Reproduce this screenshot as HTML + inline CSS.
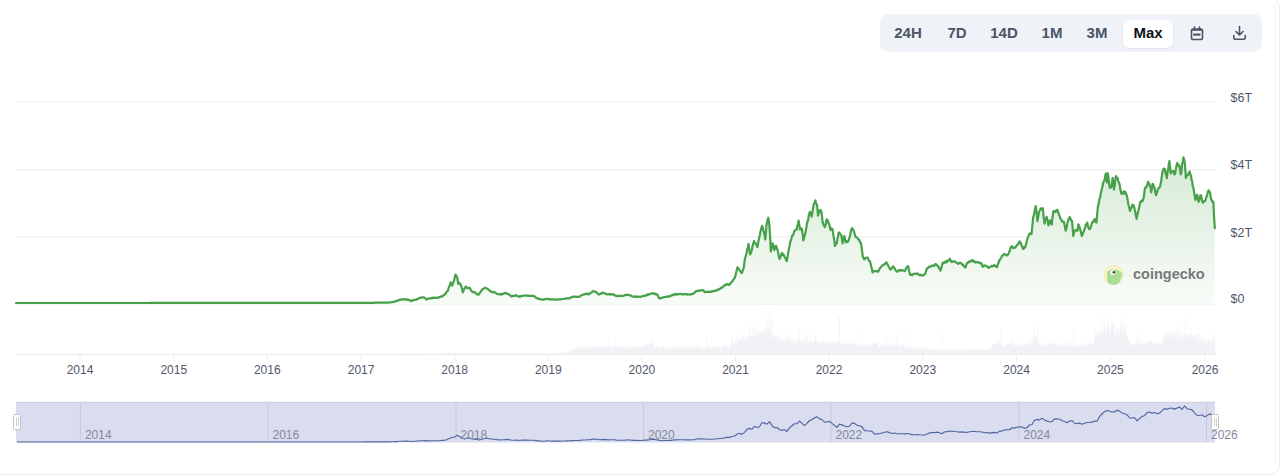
<!DOCTYPE html>
<html><head><meta charset="utf-8">
<style>
html,body{margin:0;padding:0;background:#fff;}
body{width:1280px;height:475px;overflow:hidden;position:relative;font-family:"Liberation Sans",sans-serif;}
.card{position:absolute;left:-20px;top:-3px;width:1300px;height:478px;box-sizing:border-box;border:1px solid #ececee;border-radius:10px;}
.grp{position:absolute;left:880px;top:14px;width:382px;height:38px;background:#eff3f8;border-radius:8px;}
.b{position:absolute;top:0;height:38px;line-height:38px;font-size:15px;font-weight:bold;color:#4b5565;text-align:center;}
.max{position:absolute;left:243px;top:5.5px;width:50px;height:28px;background:#fff;border-radius:6px;box-shadow:0 1px 2px rgba(16,24,40,0.08);}
svg{position:absolute;left:0;top:0;}
</style></head><body>
<div class="card"></div>
<div style="position:absolute;left:1273px;top:5px;width:4px;height:458px;background:#fafafa"></div>
<div class="grp">
  <div class="max"></div>
  <div class="b" style="left:8px;width:40px">24H</div>
  <div class="b" style="left:57px;width:40px">7D</div>
  <div class="b" style="left:104px;width:40px">14D</div>
  <div class="b" style="left:152px;width:40px">1M</div>
  <div class="b" style="left:197px;width:40px">3M</div>
  <div class="b" style="left:248px;width:40px;color:#0d1217">Max</div>
  <svg style="left:310px;top:12px" width="14" height="15" viewBox="0 0 14 15">
    <rect x="1.5" y="3" width="11" height="10.5" rx="1.8" fill="none" stroke="#4b5565" stroke-width="1.6"/>
    <rect x="1.5" y="3" width="11" height="1.8" fill="#4b5565"/>
    <line x1="4.5" y1="1" x2="4.5" y2="4" stroke="#4b5565" stroke-width="1.6" stroke-linecap="round"/>
    <line x1="9.5" y1="1" x2="9.5" y2="4" stroke="#4b5565" stroke-width="1.6" stroke-linecap="round"/>
    <line x1="3.2" y1="8.6" x2="10.4" y2="8.6" stroke="#4b5565" stroke-width="2.2"/>
  </svg>
  <svg style="left:352px;top:11px" width="15" height="16" viewBox="0 0 15 16">
    <path d="M7.5 1.5 V9.5 M4 6.5 L7.5 10 L11 6.5" fill="none" stroke="#4b5565" stroke-width="1.6" stroke-linecap="round" stroke-linejoin="round"/>
    <path d="M1.8 10.6 V13 Q1.8 14.2 3 14.2 H12 Q13.2 14.2 13.2 13 V10.6" fill="none" stroke="#4b5565" stroke-width="1.6" stroke-linecap="round"/>
  </svg>
</div>
<svg width="1280" height="475" viewBox="0 0 1280 475">
  <defs>
    <linearGradient id="ag" x1="0" y1="101" x2="0" y2="304" gradientUnits="userSpaceOnUse">
      <stop offset="0" stop-color="#c9e3c9"/>
      <stop offset="1" stop-color="#f8fcf8"/>
    </linearGradient>
  </defs>
  <line x1="16" x2="1216" y1="102.0" y2="102.0" stroke="#ebebeb" stroke-width="1"/><line x1="16" x2="1216" y1="169.8" y2="169.8" stroke="#ebebeb" stroke-width="1"/><line x1="16" x2="1216" y1="237.0" y2="237.0" stroke="#ebebeb" stroke-width="1"/><line x1="16" x2="1216" y1="304.0" y2="304.0" stroke="#ebebeb" stroke-width="1"/>
  <path d="M16 354.5 L16 354.2 L16.6 354.2 L16.6 354.1 L17.2 354.1 L17.2 354.2 L17.8 354.2 L17.8 354.2 L18.4 354.2 L18.4 354.2 L19 354.2 L19 354.3 L19.6 354.3 L19.6 354.3 L20.2 354.3 L20.2 354 L20.8 354 L20.8 354.1 L21.4 354.1 L21.4 354.2 L22 354.2 L22 354.3 L22.6 354.3 L22.6 354.3 L23.2 354.3 L23.2 354.1 L23.8 354.1 L23.8 354.2 L24.4 354.2 L24.4 354.2 L25 354.2 L25 354.2 L25.6 354.2 L25.6 354.2 L26.2 354.2 L26.2 354.1 L26.8 354.1 L26.8 354.2 L27.4 354.2 L27.4 354.2 L28 354.2 L28 354.2 L28.6 354.2 L28.6 354.2 L29.2 354.2 L29.2 354.2 L29.8 354.2 L29.8 354.1 L30.4 354.1 L30.4 354.3 L31 354.3 L31 354.1 L31.6 354.1 L31.6 354.1 L32.2 354.1 L32.2 354.3 L32.8 354.3 L32.8 354.2 L33.4 354.2 L33.4 354.3 L34 354.3 L34 354.1 L34.6 354.1 L34.6 354.3 L35.2 354.3 L35.2 354 L35.8 354 L35.8 354.2 L36.4 354.2 L36.4 354.2 L37 354.2 L37 354.2 L37.6 354.2 L37.6 354.2 L38.2 354.2 L38.2 354.2 L38.8 354.2 L38.8 354.2 L39.4 354.2 L39.4 354.2 L40 354.2 L40 354.1 L40.6 354.1 L40.6 354.2 L41.2 354.2 L41.2 354.2 L41.8 354.2 L41.8 354.1 L42.4 354.1 L42.4 354.2 L43 354.2 L43 354.2 L43.6 354.2 L43.6 354.3 L44.2 354.3 L44.2 354.2 L44.8 354.2 L44.8 354.2 L45.4 354.2 L45.4 354.2 L46 354.2 L46 354.2 L46.6 354.2 L46.6 354.1 L47.2 354.1 L47.2 354.2 L47.8 354.2 L47.8 354.1 L48.4 354.1 L48.4 354.2 L49 354.2 L49 354.1 L49.6 354.1 L49.6 354.1 L50.2 354.1 L50.2 354.2 L50.8 354.2 L50.8 354 L51.4 354 L51.4 354.2 L52 354.2 L52 354.2 L52.6 354.2 L52.6 354.2 L53.2 354.2 L53.2 354.2 L53.8 354.2 L53.8 354.2 L54.4 354.2 L54.4 354.2 L55 354.2 L55 354.2 L55.6 354.2 L55.6 354.1 L56.2 354.1 L56.2 354.3 L56.8 354.3 L56.8 354.2 L57.4 354.2 L57.4 354.2 L58 354.2 L58 354.2 L58.6 354.2 L58.6 354.2 L59.2 354.2 L59.2 354.1 L59.8 354.1 L59.8 354.2 L60.4 354.2 L60.4 354.1 L61 354.1 L61 354.1 L61.6 354.1 L61.6 354 L62.2 354 L62.2 354.2 L62.8 354.2 L62.8 354.2 L63.4 354.2 L63.4 354.2 L64 354.2 L64 354.1 L64.6 354.1 L64.6 354.1 L65.2 354.1 L65.2 354.1 L65.8 354.1 L65.8 354.2 L66.4 354.2 L66.4 354.1 L67 354.1 L67 354.2 L67.6 354.2 L67.6 354.1 L68.2 354.1 L68.2 354.2 L68.8 354.2 L68.8 354.2 L69.4 354.2 L69.4 354.2 L70 354.2 L70 354.1 L70.6 354.1 L70.6 354.1 L71.2 354.1 L71.2 354.1 L71.8 354.1 L71.8 354.2 L72.4 354.2 L72.4 354.2 L73 354.2 L73 354.2 L73.6 354.2 L73.6 354.2 L74.2 354.2 L74.2 354.1 L74.8 354.1 L74.8 354.2 L75.4 354.2 L75.4 354.1 L76 354.1 L76 354.1 L76.6 354.1 L76.6 354.2 L77.2 354.2 L77.2 354.2 L77.8 354.2 L77.8 354.1 L78.4 354.1 L78.4 354.1 L79 354.1 L79 354.2 L79.6 354.2 L79.6 354.1 L80.2 354.1 L80.2 354.2 L80.8 354.2 L80.8 354.2 L81.4 354.2 L81.4 354.2 L82 354.2 L82 354.1 L82.6 354.1 L82.6 354.1 L83.2 354.1 L83.2 354.2 L83.8 354.2 L83.8 354.2 L84.4 354.2 L84.4 354.2 L85 354.2 L85 354.2 L85.6 354.2 L85.6 354.1 L86.2 354.1 L86.2 354.2 L86.8 354.2 L86.8 354.2 L87.4 354.2 L87.4 354.2 L88 354.2 L88 354.2 L88.6 354.2 L88.6 354.1 L89.2 354.1 L89.2 354 L89.8 354 L89.8 354.2 L90.4 354.2 L90.4 354.2 L91 354.2 L91 354.2 L91.6 354.2 L91.6 354.1 L92.2 354.1 L92.2 354.1 L92.8 354.1 L92.8 354.2 L93.4 354.2 L93.4 354 L94 354 L94 354.1 L94.6 354.1 L94.6 354.2 L95.2 354.2 L95.2 354.1 L95.8 354.1 L95.8 354.1 L96.4 354.1 L96.4 354.2 L97 354.2 L97 354.1 L97.6 354.1 L97.6 354.1 L98.2 354.1 L98.2 354.2 L98.8 354.2 L98.8 354.1 L99.4 354.1 L99.4 354.2 L100 354.2 L100 354.1 L100.6 354.1 L100.6 354.1 L101.2 354.1 L101.2 354.1 L101.8 354.1 L101.8 354.1 L102.4 354.1 L102.4 354.1 L103 354.1 L103 354.2 L103.6 354.2 L103.6 354.1 L104.2 354.1 L104.2 354.2 L104.8 354.2 L104.8 354.2 L105.4 354.2 L105.4 354.1 L106 354.1 L106 354.2 L106.6 354.2 L106.6 354.2 L107.2 354.2 L107.2 354 L107.8 354 L107.8 354.2 L108.4 354.2 L108.4 354.2 L109 354.2 L109 354.1 L109.6 354.1 L109.6 354.2 L110.2 354.2 L110.2 354.1 L110.8 354.1 L110.8 354.1 L111.4 354.1 L111.4 354.2 L112 354.2 L112 354.2 L112.6 354.2 L112.6 354.2 L113.2 354.2 L113.2 354.1 L113.8 354.1 L113.8 354.2 L114.4 354.2 L114.4 354.1 L115 354.1 L115 354.2 L115.6 354.2 L115.6 354.1 L116.2 354.1 L116.2 354.1 L116.8 354.1 L116.8 354.1 L117.4 354.1 L117.4 354.2 L118 354.2 L118 354.2 L118.6 354.2 L118.6 354.2 L119.2 354.2 L119.2 354.1 L119.8 354.1 L119.8 354.1 L120.4 354.1 L120.4 354.2 L121 354.2 L121 354.2 L121.6 354.2 L121.6 354.2 L122.2 354.2 L122.2 354.1 L122.8 354.1 L122.8 354.2 L123.4 354.2 L123.4 354.2 L124 354.2 L124 354.1 L124.6 354.1 L124.6 354.2 L125.2 354.2 L125.2 354.1 L125.8 354.1 L125.8 354.2 L126.4 354.2 L126.4 354.2 L127 354.2 L127 354.2 L127.6 354.2 L127.6 354.2 L128.2 354.2 L128.2 354.1 L128.8 354.1 L128.8 354.1 L129.4 354.1 L129.4 354.1 L130 354.1 L130 354.2 L130.6 354.2 L130.6 354.2 L131.2 354.2 L131.2 354.2 L131.8 354.2 L131.8 354.2 L132.4 354.2 L132.4 354.1 L133 354.1 L133 354.1 L133.6 354.1 L133.6 354.1 L134.2 354.1 L134.2 354.2 L134.8 354.2 L134.8 354.1 L135.4 354.1 L135.4 354.2 L136 354.2 L136 354.1 L136.6 354.1 L136.6 354.1 L137.2 354.1 L137.2 354.2 L137.8 354.2 L137.8 354.1 L138.4 354.1 L138.4 354.2 L139 354.2 L139 354.2 L139.6 354.2 L139.6 354.2 L140.2 354.2 L140.2 354 L140.8 354 L140.8 354.1 L141.4 354.1 L141.4 354.1 L142 354.1 L142 354.1 L142.6 354.1 L142.6 354.1 L143.2 354.1 L143.2 354.2 L143.8 354.2 L143.8 354 L144.4 354 L144.4 354.1 L145 354.1 L145 354.2 L145.6 354.2 L145.6 354.2 L146.2 354.2 L146.2 354.1 L146.8 354.1 L146.8 354.2 L147.4 354.2 L147.4 354.1 L148 354.1 L148 354.1 L148.6 354.1 L148.6 354.1 L149.2 354.1 L149.2 354.1 L149.8 354.1 L149.8 354.2 L150.4 354.2 L150.4 354.1 L151 354.1 L151 354.1 L151.6 354.1 L151.6 354.2 L152.2 354.2 L152.2 354.2 L152.8 354.2 L152.8 354.2 L153.4 354.2 L153.4 354.1 L154 354.1 L154 354.1 L154.6 354.1 L154.6 354.1 L155.2 354.1 L155.2 354.1 L155.8 354.1 L155.8 354.1 L156.4 354.1 L156.4 354.1 L157 354.1 L157 354.1 L157.6 354.1 L157.6 354.1 L158.2 354.1 L158.2 354.1 L158.8 354.1 L158.8 354.1 L159.4 354.1 L159.4 354.1 L160 354.1 L160 354.2 L160.6 354.2 L160.6 354 L161.2 354 L161.2 354.1 L161.8 354.1 L161.8 354.2 L162.4 354.2 L162.4 354.1 L163 354.1 L163 354.1 L163.6 354.1 L163.6 354.1 L164.2 354.1 L164.2 354 L164.8 354 L164.8 354.1 L165.4 354.1 L165.4 353.9 L166 353.9 L166 354.1 L166.6 354.1 L166.6 354 L167.2 354 L167.2 354.1 L167.8 354.1 L167.8 354.2 L168.4 354.2 L168.4 354.1 L169 354.1 L169 354 L169.6 354 L169.6 354 L170.2 354 L170.2 354.1 L170.8 354.1 L170.8 354.1 L171.4 354.1 L171.4 354.2 L172 354.2 L172 354.2 L172.6 354.2 L172.6 354.2 L173.2 354.2 L173.2 353.9 L173.8 353.9 L173.8 354.1 L174.4 354.1 L174.4 354.1 L175 354.1 L175 354.2 L175.6 354.2 L175.6 354.1 L176.2 354.1 L176.2 354.1 L176.8 354.1 L176.8 354.2 L177.4 354.2 L177.4 354.2 L178 354.2 L178 354.1 L178.6 354.1 L178.6 354.1 L179.2 354.1 L179.2 354.2 L179.8 354.2 L179.8 354 L180.4 354 L180.4 354 L181 354 L181 354.1 L181.6 354.1 L181.6 354.2 L182.2 354.2 L182.2 354 L182.8 354 L182.8 354.1 L183.4 354.1 L183.4 354.1 L184 354.1 L184 354.2 L184.6 354.2 L184.6 354.1 L185.2 354.1 L185.2 354.2 L185.8 354.2 L185.8 354.2 L186.4 354.2 L186.4 354.1 L187 354.1 L187 354.2 L187.6 354.2 L187.6 354.1 L188.2 354.1 L188.2 354.1 L188.8 354.1 L188.8 354 L189.4 354 L189.4 354.2 L190 354.2 L190 354 L190.6 354 L190.6 354.1 L191.2 354.1 L191.2 354.2 L191.8 354.2 L191.8 354.1 L192.4 354.1 L192.4 354.1 L193 354.1 L193 354.2 L193.6 354.2 L193.6 354 L194.2 354 L194.2 354 L194.8 354 L194.8 354.2 L195.4 354.2 L195.4 354.1 L196 354.1 L196 354.1 L196.6 354.1 L196.6 354.2 L197.2 354.2 L197.2 354.1 L197.8 354.1 L197.8 354.1 L198.4 354.1 L198.4 354.2 L199 354.2 L199 354.1 L199.6 354.1 L199.6 354.2 L200.2 354.2 L200.2 354.1 L200.8 354.1 L200.8 354.1 L201.4 354.1 L201.4 354.1 L202 354.1 L202 354.1 L202.6 354.1 L202.6 354.1 L203.2 354.1 L203.2 354.1 L203.8 354.1 L203.8 354.1 L204.4 354.1 L204.4 354.1 L205 354.1 L205 354.2 L205.6 354.2 L205.6 354.2 L206.2 354.2 L206.2 354.1 L206.8 354.1 L206.8 354.1 L207.4 354.1 L207.4 354.1 L208 354.1 L208 354.2 L208.6 354.2 L208.6 354.2 L209.2 354.2 L209.2 354.1 L209.8 354.1 L209.8 354.1 L210.4 354.1 L210.4 354.1 L211 354.1 L211 354.1 L211.6 354.1 L211.6 354.1 L212.2 354.1 L212.2 354 L212.8 354 L212.8 354 L213.4 354 L213.4 354 L214 354 L214 354.1 L214.6 354.1 L214.6 354 L215.2 354 L215.2 354.1 L215.8 354.1 L215.8 354.1 L216.4 354.1 L216.4 354.1 L217 354.1 L217 354.2 L217.6 354.2 L217.6 354 L218.2 354 L218.2 354 L218.8 354 L218.8 354.2 L219.4 354.2 L219.4 354 L220 354 L220 354.2 L220.6 354.2 L220.6 354.1 L221.2 354.1 L221.2 354 L221.8 354 L221.8 354 L222.4 354 L222.4 354.1 L223 354.1 L223 354.2 L223.6 354.2 L223.6 354.1 L224.2 354.1 L224.2 354.2 L224.8 354.2 L224.8 354.2 L225.4 354.2 L225.4 354.1 L226 354.1 L226 354.1 L226.6 354.1 L226.6 354.1 L227.2 354.1 L227.2 354.1 L227.8 354.1 L227.8 354 L228.4 354 L228.4 354.1 L229 354.1 L229 354.1 L229.6 354.1 L229.6 354 L230.2 354 L230.2 354 L230.8 354 L230.8 354 L231.4 354 L231.4 354 L232 354 L232 354 L232.6 354 L232.6 354.1 L233.2 354.1 L233.2 354 L233.8 354 L233.8 354.1 L234.4 354.1 L234.4 354 L235 354 L235 354.1 L235.6 354.1 L235.6 354.1 L236.2 354.1 L236.2 354.1 L236.8 354.1 L236.8 354.2 L237.4 354.2 L237.4 354.2 L238 354.2 L238 354 L238.6 354 L238.6 354.2 L239.2 354.2 L239.2 354.1 L239.8 354.1 L239.8 354.2 L240.4 354.2 L240.4 354.1 L241 354.1 L241 354.1 L241.6 354.1 L241.6 354.1 L242.2 354.1 L242.2 354.1 L242.8 354.1 L242.8 354.1 L243.4 354.1 L243.4 354.1 L244 354.1 L244 354 L244.6 354 L244.6 354.1 L245.2 354.1 L245.2 354 L245.8 354 L245.8 354.1 L246.4 354.1 L246.4 354.1 L247 354.1 L247 354.2 L247.6 354.2 L247.6 354 L248.2 354 L248.2 354.1 L248.8 354.1 L248.8 354.1 L249.4 354.1 L249.4 354.1 L250 354.1 L250 354.2 L250.6 354.2 L250.6 354.1 L251.2 354.1 L251.2 354 L251.8 354 L251.8 354.1 L252.4 354.1 L252.4 354.1 L253 354.1 L253 354 L253.6 354 L253.6 354.1 L254.2 354.1 L254.2 354.1 L254.8 354.1 L254.8 354.1 L255.4 354.1 L255.4 354.2 L256 354.2 L256 354 L256.6 354 L256.6 354.2 L257.2 354.2 L257.2 354 L257.8 354 L257.8 354.1 L258.4 354.1 L258.4 354 L259 354 L259 354 L259.6 354 L259.6 354 L260.2 354 L260.2 354 L260.8 354 L260.8 354 L261.4 354 L261.4 354.1 L262 354.1 L262 354.1 L262.6 354.1 L262.6 354.1 L263.2 354.1 L263.2 354.2 L263.8 354.2 L263.8 354.1 L264.4 354.1 L264.4 354.1 L265 354.1 L265 354.2 L265.6 354.2 L265.6 354.1 L266.2 354.1 L266.2 354 L266.8 354 L266.8 354.2 L267.4 354.2 L267.4 354 L268 354 L268 354.1 L268.6 354.1 L268.6 354.2 L269.2 354.2 L269.2 354 L269.8 354 L269.8 354 L270.4 354 L270.4 354.1 L271 354.1 L271 354.1 L271.6 354.1 L271.6 354.1 L272.2 354.1 L272.2 354.1 L272.8 354.1 L272.8 354 L273.4 354 L273.4 354 L274 354 L274 354 L274.6 354 L274.6 354 L275.2 354 L275.2 354.1 L275.8 354.1 L275.8 354 L276.4 354 L276.4 354.1 L277 354.1 L277 354 L277.6 354 L277.6 354.1 L278.2 354.1 L278.2 354.1 L278.8 354.1 L278.8 354.1 L279.4 354.1 L279.4 354 L280 354 L280 354.1 L280.6 354.1 L280.6 354 L281.2 354 L281.2 354.1 L281.8 354.1 L281.8 353.9 L282.4 353.9 L282.4 354 L283 354 L283 354 L283.6 354 L283.6 353.9 L284.2 353.9 L284.2 354.1 L284.8 354.1 L284.8 354.1 L285.4 354.1 L285.4 354.1 L286 354.1 L286 354 L286.6 354 L286.6 354.1 L287.2 354.1 L287.2 354 L287.8 354 L287.8 354.1 L288.4 354.1 L288.4 354.1 L289 354.1 L289 354 L289.6 354 L289.6 354 L290.2 354 L290.2 354.1 L290.8 354.1 L290.8 354 L291.4 354 L291.4 354.1 L292 354.1 L292 354 L292.6 354 L292.6 354.1 L293.2 354.1 L293.2 354.1 L293.8 354.1 L293.8 354.1 L294.4 354.1 L294.4 354.1 L295 354.1 L295 354 L295.6 354 L295.6 354 L296.2 354 L296.2 354 L296.8 354 L296.8 354 L297.4 354 L297.4 354.1 L298 354.1 L298 354.1 L298.6 354.1 L298.6 354.1 L299.2 354.1 L299.2 354 L299.8 354 L299.8 354 L300.4 354 L300.4 354.2 L301 354.2 L301 354 L301.6 354 L301.6 354 L302.2 354 L302.2 354 L302.8 354 L302.8 354.1 L303.4 354.1 L303.4 353.9 L304 353.9 L304 354.1 L304.6 354.1 L304.6 354.1 L305.2 354.1 L305.2 354.1 L305.8 354.1 L305.8 354.1 L306.4 354.1 L306.4 354.1 L307 354.1 L307 354.1 L307.6 354.1 L307.6 354.1 L308.2 354.1 L308.2 354 L308.8 354 L308.8 354.1 L309.4 354.1 L309.4 354 L310 354 L310 354 L310.6 354 L310.6 353.9 L311.2 353.9 L311.2 354 L311.8 354 L311.8 354.1 L312.4 354.1 L312.4 354 L313 354 L313 354 L313.6 354 L313.6 354 L314.2 354 L314.2 354.1 L314.8 354.1 L314.8 354 L315.4 354 L315.4 354 L316 354 L316 354.1 L316.6 354.1 L316.6 354.1 L317.2 354.1 L317.2 354.1 L317.8 354.1 L317.8 353.8 L318.4 353.8 L318.4 354 L319 354 L319 354.1 L319.6 354.1 L319.6 354.1 L320.2 354.1 L320.2 354 L320.8 354 L320.8 354 L321.4 354 L321.4 354.1 L322 354.1 L322 354.1 L322.6 354.1 L322.6 354 L323.2 354 L323.2 354.1 L323.8 354.1 L323.8 354.1 L324.4 354.1 L324.4 353.9 L325 353.9 L325 354.1 L325.6 354.1 L325.6 354.1 L326.2 354.1 L326.2 354 L326.8 354 L326.8 354.1 L327.4 354.1 L327.4 353.8 L328 353.8 L328 354.1 L328.6 354.1 L328.6 353.9 L329.2 353.9 L329.2 354 L329.8 354 L329.8 354.1 L330.4 354.1 L330.4 354 L331 354 L331 354 L331.6 354 L331.6 354 L332.2 354 L332.2 354 L332.8 354 L332.8 354.1 L333.4 354.1 L333.4 354.1 L334 354.1 L334 354.1 L334.6 354.1 L334.6 354 L335.2 354 L335.2 354 L335.8 354 L335.8 354 L336.4 354 L336.4 354 L337 354 L337 354 L337.6 354 L337.6 354.1 L338.2 354.1 L338.2 354 L338.8 354 L338.8 354.1 L339.4 354.1 L339.4 354 L340 354 L340 354.1 L340.6 354.1 L340.6 354 L341.2 354 L341.2 354.1 L341.8 354.1 L341.8 353.9 L342.4 353.9 L342.4 354.1 L343 354.1 L343 354.1 L343.6 354.1 L343.6 354 L344.2 354 L344.2 353.8 L344.8 353.8 L344.8 354.1 L345.4 354.1 L345.4 354 L346 354 L346 354.1 L346.6 354.1 L346.6 354.1 L347.2 354.1 L347.2 354 L347.8 354 L347.8 353.9 L348.4 353.9 L348.4 354.1 L349 354.1 L349 354 L349.6 354 L349.6 353.9 L350.2 353.9 L350.2 354.1 L350.8 354.1 L350.8 354 L351.4 354 L351.4 354 L352 354 L352 354 L352.6 354 L352.6 354 L353.2 354 L353.2 354 L353.8 354 L353.8 354.1 L354.4 354.1 L354.4 354.1 L355 354.1 L355 354.1 L355.6 354.1 L355.6 354 L356.2 354 L356.2 354 L356.8 354 L356.8 354 L357.4 354 L357.4 354 L358 354 L358 354.1 L358.6 354.1 L358.6 354 L359.2 354 L359.2 353.9 L359.8 353.9 L359.8 353.8 L360.4 353.8 L360.4 354 L361 354 L361 354.1 L361.6 354.1 L361.6 354.1 L362.2 354.1 L362.2 354 L362.8 354 L362.8 354 L363.4 354 L363.4 354.1 L364 354.1 L364 354.1 L364.6 354.1 L364.6 354 L365.2 354 L365.2 354.1 L365.8 354.1 L365.8 354.1 L366.4 354.1 L366.4 354.1 L367 354.1 L367 354.1 L367.6 354.1 L367.6 353.9 L368.2 353.9 L368.2 354.1 L368.8 354.1 L368.8 354 L369.4 354 L369.4 353.8 L370 353.8 L370 354 L370.6 354 L370.6 354.1 L371.2 354.1 L371.2 353.9 L371.8 353.9 L371.8 353.9 L372.4 353.9 L372.4 354 L373 354 L373 354 L373.6 354 L373.6 354.1 L374.2 354.1 L374.2 354 L374.8 354 L374.8 354.1 L375.4 354.1 L375.4 354 L376 354 L376 354 L376.6 354 L376.6 354 L377.2 354 L377.2 353.9 L377.8 353.9 L377.8 354.1 L378.4 354.1 L378.4 353.8 L379 353.8 L379 354 L379.6 354 L379.6 354 L380.2 354 L380.2 354 L380.8 354 L380.8 353.9 L381.4 353.9 L381.4 353.9 L382 353.9 L382 354 L382.6 354 L382.6 354 L383.2 354 L383.2 354.1 L383.8 354.1 L383.8 354 L384.4 354 L384.4 354 L385 354 L385 353.9 L385.6 353.9 L385.6 354 L386.2 354 L386.2 354.1 L386.8 354.1 L386.8 354 L387.4 354 L387.4 354.1 L388 354.1 L388 354 L388.6 354 L388.6 353.9 L389.2 353.9 L389.2 354 L389.8 354 L389.8 354 L390.4 354 L390.4 354 L391 354 L391 353.9 L391.6 353.9 L391.6 354.1 L392.2 354.1 L392.2 354 L392.8 354 L392.8 353.8 L393.4 353.8 L393.4 353.9 L394 353.9 L394 354 L394.6 354 L394.6 353.7 L395.2 353.7 L395.2 353.7 L395.8 353.7 L395.8 353.9 L396.4 353.9 L396.4 354 L397 354 L397 354 L397.6 354 L397.6 353.9 L398.2 353.9 L398.2 354 L398.8 354 L398.8 353.8 L399.4 353.8 L399.4 353.9 L400 353.9 L400 354 L400.6 354 L400.6 353.9 L401.2 353.9 L401.2 353.6 L401.8 353.6 L401.8 353.9 L402.4 353.9 L402.4 353.7 L403 353.7 L403 353.8 L403.6 353.8 L403.6 353.9 L404.2 353.9 L404.2 353.8 L404.8 353.8 L404.8 353.7 L405.4 353.7 L405.4 353.8 L406 353.8 L406 353.9 L406.6 353.9 L406.6 354 L407.2 354 L407.2 353.9 L407.8 353.9 L407.8 353.9 L408.4 353.9 L408.4 353.9 L409 353.9 L409 353.9 L409.6 353.9 L409.6 353.9 L410.2 353.9 L410.2 353.9 L410.8 353.9 L410.8 353.9 L411.4 353.9 L411.4 353.7 L412 353.7 L412 353.5 L412.6 353.5 L412.6 353.8 L413.2 353.8 L413.2 353.5 L413.8 353.5 L413.8 353.8 L414.4 353.8 L414.4 353.8 L415 353.8 L415 353.9 L415.6 353.9 L415.6 353.7 L416.2 353.7 L416.2 353.9 L416.8 353.9 L416.8 353.9 L417.4 353.9 L417.4 353.7 L418 353.7 L418 353.8 L418.6 353.8 L418.6 353.6 L419.2 353.6 L419.2 353.7 L419.8 353.7 L419.8 353.8 L420.4 353.8 L420.4 353.8 L421 353.8 L421 353.6 L421.6 353.6 L421.6 353.5 L422.2 353.5 L422.2 353.7 L422.8 353.7 L422.8 353.8 L423.4 353.8 L423.4 353.9 L424 353.9 L424 353.8 L424.6 353.8 L424.6 353.4 L425.2 353.4 L425.2 353.8 L425.8 353.8 L425.8 353.7 L426.4 353.7 L426.4 353.7 L427 353.7 L427 353.7 L427.6 353.7 L427.6 353.5 L428.2 353.5 L428.2 353.8 L428.8 353.8 L428.8 353.8 L429.4 353.8 L429.4 353.6 L430 353.6 L430 353.5 L430.6 353.5 L430.6 353.8 L431.2 353.8 L431.2 353.7 L431.8 353.7 L431.8 353.7 L432.4 353.7 L432.4 353.6 L433 353.6 L433 353.8 L433.6 353.8 L433.6 353.7 L434.2 353.7 L434.2 353.7 L434.8 353.7 L434.8 353.8 L435.4 353.8 L435.4 353.8 L436 353.8 L436 353.8 L436.6 353.8 L436.6 353.5 L437.2 353.5 L437.2 353.8 L437.8 353.8 L437.8 353.3 L438.4 353.3 L438.4 353.6 L439 353.6 L439 353.7 L439.6 353.7 L439.6 353.7 L440.2 353.7 L440.2 353.7 L440.8 353.7 L440.8 353.5 L441.4 353.5 L441.4 353.4 L442 353.4 L442 353.6 L442.6 353.6 L442.6 353.4 L443.2 353.4 L443.2 353.3 L443.8 353.3 L443.8 353.5 L444.4 353.5 L444.4 353.5 L445 353.5 L445 353.6 L445.6 353.6 L445.6 353.1 L446.2 353.1 L446.2 353.5 L446.8 353.5 L446.8 353.3 L447.4 353.3 L447.4 353.3 L448 353.3 L448 352.5 L448.6 352.5 L448.6 352.7 L449.2 352.7 L449.2 353 L449.8 353 L449.8 353.4 L450.4 353.4 L450.4 353.4 L451 353.4 L451 353.1 L451.6 353.1 L451.6 353.1 L452.2 353.1 L452.2 352.8 L452.8 352.8 L452.8 353 L453.4 353 L453.4 352.7 L454 352.7 L454 353 L454.6 353 L454.6 352.8 L455.2 352.8 L455.2 353.1 L455.8 353.1 L455.8 353.2 L456.4 353.2 L456.4 353.1 L457 353.1 L457 353.2 L457.6 353.2 L457.6 353.3 L458.2 353.3 L458.2 353.2 L458.8 353.2 L458.8 353.1 L459.4 353.1 L459.4 353 L460 353 L460 352.7 L460.6 352.7 L460.6 352.8 L461.2 352.8 L461.2 353.4 L461.8 353.4 L461.8 353.1 L462.4 353.1 L462.4 353.3 L463 353.3 L463 353.2 L463.6 353.2 L463.6 353 L464.2 353 L464.2 353.5 L464.8 353.5 L464.8 353.1 L465.4 353.1 L465.4 353.4 L466 353.4 L466 353.1 L466.6 353.1 L466.6 353.3 L467.2 353.3 L467.2 353.2 L467.8 353.2 L467.8 353.6 L468.4 353.6 L468.4 353.6 L469 353.6 L469 353.5 L469.6 353.5 L469.6 353.5 L470.2 353.5 L470.2 353.7 L470.8 353.7 L470.8 352.9 L471.4 352.9 L471.4 353.3 L472 353.3 L472 353.3 L472.6 353.3 L472.6 353.3 L473.2 353.3 L473.2 353.3 L473.8 353.3 L473.8 353.6 L474.4 353.6 L474.4 353.5 L475 353.5 L475 353.6 L475.6 353.6 L475.6 353.7 L476.2 353.7 L476.2 353.6 L476.8 353.6 L476.8 353.5 L477.4 353.5 L477.4 353.3 L478 353.3 L478 353.4 L478.6 353.4 L478.6 353.5 L479.2 353.5 L479.2 353.5 L479.8 353.5 L479.8 353.5 L480.4 353.5 L480.4 353.6 L481 353.6 L481 353.4 L481.6 353.4 L481.6 353.6 L482.2 353.6 L482.2 353.6 L482.8 353.6 L482.8 353 L483.4 353 L483.4 353.5 L484 353.5 L484 353.4 L484.6 353.4 L484.6 353.6 L485.2 353.6 L485.2 353.5 L485.8 353.5 L485.8 353.6 L486.4 353.6 L486.4 353.5 L487 353.5 L487 353.6 L487.6 353.6 L487.6 353.3 L488.2 353.3 L488.2 353.6 L488.8 353.6 L488.8 353.2 L489.4 353.2 L489.4 353.6 L490 353.6 L490 353.2 L490.6 353.2 L490.6 353.4 L491.2 353.4 L491.2 353.4 L491.8 353.4 L491.8 353.4 L492.4 353.4 L492.4 353.3 L493 353.3 L493 353.5 L493.6 353.5 L493.6 353.6 L494.2 353.6 L494.2 353.4 L494.8 353.4 L494.8 353.4 L495.4 353.4 L495.4 353.5 L496 353.5 L496 353.4 L496.6 353.4 L496.6 352.9 L497.2 352.9 L497.2 353.5 L497.8 353.5 L497.8 353.4 L498.4 353.4 L498.4 353.6 L499 353.6 L499 353.2 L499.6 353.2 L499.6 353.5 L500.2 353.5 L500.2 353.2 L500.8 353.2 L500.8 353.3 L501.4 353.3 L501.4 353.2 L502 353.2 L502 353.6 L502.6 353.6 L502.6 353.4 L503.2 353.4 L503.2 353.3 L503.8 353.3 L503.8 353.5 L504.4 353.5 L504.4 353.7 L505 353.7 L505 353.4 L505.6 353.4 L505.6 353.3 L506.2 353.3 L506.2 353.4 L506.8 353.4 L506.8 353.6 L507.4 353.6 L507.4 353.4 L508 353.4 L508 353.4 L508.6 353.4 L508.6 353.5 L509.2 353.5 L509.2 353.3 L509.8 353.3 L509.8 353.3 L510.4 353.3 L510.4 353.3 L511 353.3 L511 353.6 L511.6 353.6 L511.6 353.1 L512.2 353.1 L512.2 353.3 L512.8 353.3 L512.8 353.7 L513.4 353.7 L513.4 353.5 L514 353.5 L514 353.4 L514.6 353.4 L514.6 353.7 L515.2 353.7 L515.2 353.6 L515.8 353.6 L515.8 353.3 L516.4 353.3 L516.4 353.6 L517 353.6 L517 353.1 L517.6 353.1 L517.6 353.6 L518.2 353.6 L518.2 353.6 L518.8 353.6 L518.8 353.4 L519.4 353.4 L519.4 353.7 L520 353.7 L520 353.5 L520.6 353.5 L520.6 353.7 L521.2 353.7 L521.2 353.4 L521.8 353.4 L521.8 353.6 L522.4 353.6 L522.4 353.4 L523 353.4 L523 353.6 L523.6 353.6 L523.6 353.5 L524.2 353.5 L524.2 353.4 L524.8 353.4 L524.8 353.3 L525.4 353.3 L525.4 353.5 L526 353.5 L526 353.3 L526.6 353.3 L526.6 353.4 L527.2 353.4 L527.2 353.5 L527.8 353.5 L527.8 353.3 L528.4 353.3 L528.4 353.3 L529 353.3 L529 353.5 L529.6 353.5 L529.6 353.5 L530.2 353.5 L530.2 353.4 L530.8 353.4 L530.8 353.7 L531.4 353.7 L531.4 353.6 L532 353.6 L532 353.3 L532.6 353.3 L532.6 353.4 L533.2 353.4 L533.2 353.6 L533.8 353.6 L533.8 353.7 L534.4 353.7 L534.4 353.6 L535 353.6 L535 353.6 L535.6 353.6 L535.6 353.3 L536.2 353.3 L536.2 353.5 L536.8 353.5 L536.8 353.3 L537.4 353.3 L537.4 353.6 L538 353.6 L538 353.4 L538.6 353.4 L538.6 353.6 L539.2 353.6 L539.2 353 L539.8 353 L539.8 353.5 L540.4 353.5 L540.4 353.5 L541 353.5 L541 353.4 L541.6 353.4 L541.6 353.3 L542.2 353.3 L542.2 353.3 L542.8 353.3 L542.8 353.4 L543.4 353.4 L543.4 353.4 L544 353.4 L544 353.7 L544.6 353.7 L544.6 353.6 L545.2 353.6 L545.2 353.6 L545.8 353.6 L545.8 353.6 L546.4 353.6 L546.4 353.7 L547 353.7 L547 353.4 L547.6 353.4 L547.6 353.7 L548.2 353.7 L548.2 353.5 L548.8 353.5 L548.8 353.6 L549.4 353.6 L549.4 353.4 L550 353.4 L550 353.7 L550.6 353.7 L550.6 353.7 L551.2 353.7 L551.2 353.3 L551.8 353.3 L551.8 353.7 L552.4 353.7 L552.4 353.5 L553 353.5 L553 353.7 L553.6 353.7 L553.6 353.6 L554.2 353.6 L554.2 353.7 L554.8 353.7 L554.8 353.7 L555.4 353.7 L555.4 353.5 L556 353.5 L556 353.4 L556.6 353.4 L556.6 353.2 L557.2 353.2 L557.2 353.5 L557.8 353.5 L557.8 353.5 L558.4 353.5 L558.4 353.7 L559 353.7 L559 353.7 L559.6 353.7 L559.6 353.5 L560.2 353.5 L560.2 353.4 L560.8 353.4 L560.8 353.1 L561.4 353.1 L561.4 353.5 L562 353.5 L562 352.8 L562.6 352.8 L562.6 352.7 L563.2 352.7 L563.2 352.3 L563.8 352.3 L563.8 352.8 L564.4 352.8 L564.4 352.3 L565 352.3 L565 352.8 L565.6 352.8 L565.6 352.6 L566.2 352.6 L566.2 352.5 L566.8 352.5 L566.8 352.1 L567.4 352.1 L567.4 351.5 L568 351.5 L568 351 L568.6 351 L568.6 351.2 L569.2 351.2 L569.2 351.1 L569.8 351.1 L569.8 350.1 L570.4 350.1 L570.4 350.5 L571 350.5 L571 350 L571.6 350 L571.6 349.7 L572.2 349.7 L572.2 350.3 L572.8 350.3 L572.8 350 L573.4 350 L573.4 348.4 L574 348.4 L574 349 L574.6 349 L574.6 348.3 L575.2 348.3 L575.2 347.7 L575.8 347.7 L575.8 346.9 L576.4 346.9 L576.4 349.2 L577 349.2 L577 344.4 L577.6 344.4 L577.6 346.2 L578.2 346.2 L578.2 347.3 L578.8 347.3 L578.8 348.2 L579.4 348.2 L579.4 347.3 L580 347.3 L580 347.6 L580.6 347.6 L580.6 345.7 L581.2 345.7 L581.2 348.3 L581.8 348.3 L581.8 346.6 L582.4 346.6 L582.4 346.4 L583 346.4 L583 348.2 L583.6 348.2 L583.6 348.8 L584.2 348.8 L584.2 346.4 L584.8 346.4 L584.8 348.1 L585.4 348.1 L585.4 346.5 L586 346.5 L586 348.9 L586.6 348.9 L586.6 348.9 L587.2 348.9 L587.2 347.3 L587.8 347.3 L587.8 343.1 L588.4 343.1 L588.4 346.6 L589 346.6 L589 349 L589.6 349 L589.6 347.7 L590.2 347.7 L590.2 345.8 L590.8 345.8 L590.8 348.8 L591.4 348.8 L591.4 347.6 L592 347.6 L592 347.7 L592.6 347.7 L592.6 347.5 L593.2 347.5 L593.2 347.9 L593.8 347.9 L593.8 348.7 L594.4 348.7 L594.4 346.2 L595 346.2 L595 347.1 L595.6 347.1 L595.6 348.5 L596.2 348.5 L596.2 345.7 L596.8 345.7 L596.8 345.8 L597.4 345.8 L597.4 347.5 L598 347.5 L598 346.1 L598.6 346.1 L598.6 346 L599.2 346 L599.2 348.8 L599.8 348.8 L599.8 347.6 L600.4 347.6 L600.4 345.7 L601 345.7 L601 346.6 L601.6 346.6 L601.6 346.3 L602.2 346.3 L602.2 346.4 L602.8 346.4 L602.8 346.9 L603.4 346.9 L603.4 347.7 L604 347.7 L604 347.7 L604.6 347.7 L604.6 347.2 L605.2 347.2 L605.2 347 L605.8 347 L605.8 347.7 L606.4 347.7 L606.4 347.3 L607 347.3 L607 347.8 L607.6 347.8 L607.6 348.2 L608.2 348.2 L608.2 346.5 L608.8 346.5 L608.8 336 L609.4 336 L609.4 346.2 L610 346.2 L610 346.6 L610.6 346.6 L610.6 346.9 L611.2 346.9 L611.2 345.7 L611.8 345.7 L611.8 347.5 L612.4 347.5 L612.4 348.2 L613 348.2 L613 348.7 L613.6 348.7 L613.6 343.7 L614.2 343.7 L614.2 347.1 L614.8 347.1 L614.8 336 L615.4 336 L615.4 345.9 L616 345.9 L616 346.4 L616.6 346.4 L616.6 346.5 L617.2 346.5 L617.2 348.4 L617.8 348.4 L617.8 347 L618.4 347 L618.4 346.5 L619 346.5 L619 346.1 L619.6 346.1 L619.6 346.8 L620.2 346.8 L620.2 346 L620.8 346 L620.8 348.1 L621.4 348.1 L621.4 346.7 L622 346.7 L622 344.3 L622.6 344.3 L622.6 348.3 L623.2 348.3 L623.2 348.3 L623.8 348.3 L623.8 347.5 L624.4 347.5 L624.4 348.2 L625 348.2 L625 347.5 L625.6 347.5 L625.6 348.6 L626.2 348.6 L626.2 346.4 L626.8 346.4 L626.8 347.4 L627.4 347.4 L627.4 347.4 L628 347.4 L628 346.2 L628.6 346.2 L628.6 343.3 L629.2 343.3 L629.2 348 L629.8 348 L629.8 348.4 L630.4 348.4 L630.4 348 L631 348 L631 346.1 L631.6 346.1 L631.6 347.4 L632.2 347.4 L632.2 348.4 L632.8 348.4 L632.8 348.8 L633.4 348.8 L633.4 347.1 L634 347.1 L634 346.3 L634.6 346.3 L634.6 347.4 L635.2 347.4 L635.2 346.1 L635.8 346.1 L635.8 346.4 L636.4 346.4 L636.4 347.1 L637 347.1 L637 349.1 L637.6 349.1 L637.6 346.1 L638.2 346.1 L638.2 346.5 L638.8 346.5 L638.8 347.6 L639.4 347.6 L639.4 347.6 L640 347.6 L640 347.6 L640.6 347.6 L640.6 347.4 L641.2 347.4 L641.2 346.5 L641.8 346.5 L641.8 346.9 L642.4 346.9 L642.4 346.7 L643 346.7 L643 344.6 L643.6 344.6 L643.6 347.5 L644.2 347.5 L644.2 346.5 L644.8 346.5 L644.8 343.8 L645.4 343.8 L645.4 343.4 L646 343.4 L646 343.5 L646.6 343.5 L646.6 346.9 L647.2 346.9 L647.2 344.1 L647.8 344.1 L647.8 343.7 L648.4 343.7 L648.4 341.9 L649 341.9 L649 343.6 L649.6 343.6 L649.6 345.8 L650.2 345.8 L650.2 341.5 L650.8 341.5 L650.8 337.4 L651.4 337.4 L651.4 342.9 L652 342.9 L652 343.7 L652.6 343.7 L652.6 341.7 L653.2 341.7 L653.2 343.2 L653.8 343.2 L653.8 343.3 L654.4 343.3 L654.4 345.7 L655 345.7 L655 347.3 L655.6 347.3 L655.6 346.5 L656.2 346.5 L656.2 345.6 L656.8 345.6 L656.8 345.2 L657.4 345.2 L657.4 347.2 L658 347.2 L658 347.6 L658.6 347.6 L658.6 347.5 L659.2 347.5 L659.2 345.9 L659.8 345.9 L659.8 348 L660.4 348 L660.4 348 L661 348 L661 348 L661.6 348 L661.6 348.3 L662.2 348.3 L662.2 347.9 L662.8 347.9 L662.8 346.5 L663.4 346.5 L663.4 346.3 L664 346.3 L664 348.6 L664.6 348.6 L664.6 348.1 L665.2 348.1 L665.2 347.5 L665.8 347.5 L665.8 347.7 L666.4 347.7 L666.4 345.9 L667 345.9 L667 347.6 L667.6 347.6 L667.6 346.3 L668.2 346.3 L668.2 347.8 L668.8 347.8 L668.8 347.7 L669.4 347.7 L669.4 347 L670 347 L670 347.4 L670.6 347.4 L670.6 348.9 L671.2 348.9 L671.2 347.7 L671.8 347.7 L671.8 346 L672.4 346 L672.4 348.3 L673 348.3 L673 345.8 L673.6 345.8 L673.6 347.9 L674.2 347.9 L674.2 348.5 L674.8 348.5 L674.8 345.9 L675.4 345.9 L675.4 348.6 L676 348.6 L676 346.1 L676.6 346.1 L676.6 345.9 L677.2 345.9 L677.2 347.8 L677.8 347.8 L677.8 348.1 L678.4 348.1 L678.4 348.8 L679 348.8 L679 344.9 L679.6 344.9 L679.6 348.5 L680.2 348.5 L680.2 347.3 L680.8 347.3 L680.8 347.2 L681.4 347.2 L681.4 347.4 L682 347.4 L682 348.8 L682.6 348.8 L682.6 348.8 L683.2 348.8 L683.2 346.6 L683.8 346.6 L683.8 347.5 L684.4 347.5 L684.4 348 L685 348 L685 348.2 L685.6 348.2 L685.6 346 L686.2 346 L686.2 347.2 L686.8 347.2 L686.8 347.6 L687.4 347.6 L687.4 346.1 L688 346.1 L688 349.1 L688.6 349.1 L688.6 345.5 L689.2 345.5 L689.2 348.6 L689.8 348.6 L689.8 345.3 L690.4 345.3 L690.4 346.6 L691 346.6 L691 347.1 L691.6 347.1 L691.6 345.1 L692.2 345.1 L692.2 349 L692.8 349 L692.8 347.2 L693.4 347.2 L693.4 347.7 L694 347.7 L694 348.2 L694.6 348.2 L694.6 346.4 L695.2 346.4 L695.2 347.9 L695.8 347.9 L695.8 347.7 L696.4 347.7 L696.4 346.3 L697 346.3 L697 346.3 L697.6 346.3 L697.6 346.4 L698.2 346.4 L698.2 347.6 L698.8 347.6 L698.8 348.3 L699.4 348.3 L699.4 347 L700 347 L700 347.4 L700.6 347.4 L700.6 346.3 L701.2 346.3 L701.2 348.9 L701.8 348.9 L701.8 348.1 L702.4 348.1 L702.4 347.6 L703 347.6 L703 347.6 L703.6 347.6 L703.6 349.2 L704.2 349.2 L704.2 348.3 L704.8 348.3 L704.8 347.2 L705.4 347.2 L705.4 348.9 L706 348.9 L706 336 L706.6 336 L706.6 346.1 L707.2 346.1 L707.2 347.7 L707.8 347.7 L707.8 346.6 L708.4 346.6 L708.4 346.5 L709 346.5 L709 348.3 L709.6 348.3 L709.6 347.5 L710.2 347.5 L710.2 347.3 L710.8 347.3 L710.8 347.5 L711.4 347.5 L711.4 348.2 L712 348.2 L712 347.5 L712.6 347.5 L712.6 348.4 L713.2 348.4 L713.2 346.4 L713.8 346.4 L713.8 345.9 L714.4 345.9 L714.4 346.8 L715 346.8 L715 346.7 L715.6 346.7 L715.6 346.4 L716.2 346.4 L716.2 346.4 L716.8 346.4 L716.8 348.2 L717.4 348.2 L717.4 348.9 L718 348.9 L718 347.9 L718.6 347.9 L718.6 347 L719.2 347 L719.2 345.9 L719.8 345.9 L719.8 348.8 L720.4 348.8 L720.4 348.6 L721 348.6 L721 346.1 L721.6 346.1 L721.6 348.3 L722.2 348.3 L722.2 346.4 L722.8 346.4 L722.8 346.9 L723.4 346.9 L723.4 343 L724 343 L724 346.4 L724.6 346.4 L724.6 346 L725.2 346 L725.2 345.7 L725.8 345.7 L725.8 347.3 L726.4 347.3 L726.4 345.1 L727 345.1 L727 346.2 L727.6 346.2 L727.6 346.7 L728.2 346.7 L728.2 346.3 L728.8 346.3 L728.8 347.2 L729.4 347.2 L729.4 347.2 L730 347.2 L730 344.7 L730.6 344.7 L730.6 345.8 L731.2 345.8 L731.2 342.6 L731.8 342.6 L731.8 336 L732.4 336 L732.4 341.2 L733 341.2 L733 343.9 L733.6 343.9 L733.6 342.4 L734.2 342.4 L734.2 344.7 L734.8 344.7 L734.8 341.3 L735.4 341.3 L735.4 339.7 L736 339.7 L736 342.8 L736.6 342.8 L736.6 342.4 L737.2 342.4 L737.2 335.2 L737.8 335.2 L737.8 340.1 L738.4 340.1 L738.4 339.1 L739 339.1 L739 340.4 L739.6 340.4 L739.6 339.7 L740.2 339.7 L740.2 342 L740.8 342 L740.8 337.8 L741.4 337.8 L741.4 338.4 L742 338.4 L742 335.4 L742.6 335.4 L742.6 340.2 L743.2 340.2 L743.2 334.4 L743.8 334.4 L743.8 340.3 L744.4 340.3 L744.4 341.1 L745 341.1 L745 337 L745.6 337 L745.6 335.5 L746.2 335.5 L746.2 338.6 L746.8 338.6 L746.8 335.8 L747.4 335.8 L747.4 337.2 L748 337.2 L748 339.9 L748.6 339.9 L748.6 332.7 L749.2 332.7 L749.2 325 L749.8 325 L749.8 338.1 L750.4 338.1 L750.4 336.6 L751 336.6 L751 336.5 L751.6 336.5 L751.6 333.6 L752.2 333.6 L752.2 334.3 L752.8 334.3 L752.8 325.4 L753.4 325.4 L753.4 327.1 L754 327.1 L754 339.4 L754.6 339.4 L754.6 335.9 L755.2 335.9 L755.2 327 L755.8 327 L755.8 331.4 L756.4 331.4 L756.4 333.7 L757 333.7 L757 329.8 L757.6 329.8 L757.6 336 L758.2 336 L758.2 330.5 L758.8 330.5 L758.8 334.7 L759.4 334.7 L759.4 330 L760 330 L760 330.7 L760.6 330.7 L760.6 333.8 L761.2 333.8 L761.2 333.6 L761.8 333.6 L761.8 311 L762.4 311 L762.4 333.3 L763 333.3 L763 329.3 L763.6 329.3 L763.6 332.1 L764.2 332.1 L764.2 332 L764.8 332 L764.8 326.9 L765.4 326.9 L765.4 327.8 L766 327.8 L766 318 L766.6 318 L766.6 332.6 L767.2 332.6 L767.2 324.9 L767.8 324.9 L767.8 327.8 L768.4 327.8 L768.4 328.4 L769 328.4 L769 311 L769.6 311 L769.6 326.3 L770.2 326.3 L770.2 323.1 L770.8 323.1 L770.8 330.1 L771.4 330.1 L771.4 332.3 L772 332.3 L772 320 L772.6 320 L772.6 337.5 L773.2 337.5 L773.2 339.3 L773.8 339.3 L773.8 333.4 L774.4 333.4 L774.4 337.7 L775 337.7 L775 335.8 L775.6 335.8 L775.6 335.6 L776.2 335.6 L776.2 339.6 L776.8 339.6 L776.8 337.3 L777.4 337.3 L777.4 334.1 L778 334.1 L778 335.8 L778.6 335.8 L778.6 336.3 L779.2 336.3 L779.2 339.8 L779.8 339.8 L779.8 338 L780.4 338 L780.4 340.8 L781 340.8 L781 335.5 L781.6 335.5 L781.6 340.1 L782.2 340.1 L782.2 339.2 L782.8 339.2 L782.8 337.9 L783.4 337.9 L783.4 338.6 L784 338.6 L784 338.4 L784.6 338.4 L784.6 340.1 L785.2 340.1 L785.2 342.1 L785.8 342.1 L785.8 337.8 L786.4 337.8 L786.4 337 L787 337 L787 341 L787.6 341 L787.6 333.7 L788.2 333.7 L788.2 338.5 L788.8 338.5 L788.8 341 L789.4 341 L789.4 336.8 L790 336.8 L790 342 L790.6 342 L790.6 342.7 L791.2 342.7 L791.2 338.3 L791.8 338.3 L791.8 340.1 L792.4 340.1 L792.4 343.2 L793 343.2 L793 337.7 L793.6 337.7 L793.6 338.8 L794.2 338.8 L794.2 341.2 L794.8 341.2 L794.8 342 L795.4 342 L795.4 341.5 L796 341.5 L796 338.2 L796.6 338.2 L796.6 339.6 L797.2 339.6 L797.2 342.2 L797.8 342.2 L797.8 339.6 L798.4 339.6 L798.4 337.4 L799 337.4 L799 330 L799.6 330 L799.6 338.4 L800.2 338.4 L800.2 339.4 L800.8 339.4 L800.8 341.5 L801.4 341.5 L801.4 342.4 L802 342.4 L802 338.3 L802.6 338.3 L802.6 341.6 L803.2 341.6 L803.2 333.6 L803.8 333.6 L803.8 343.5 L804.4 343.5 L804.4 340.5 L805 340.5 L805 335.7 L805.6 335.7 L805.6 337.8 L806.2 337.8 L806.2 338.7 L806.8 338.7 L806.8 334 L807.4 334 L807.4 343 L808 343 L808 340 L808.6 340 L808.6 342.2 L809.2 342.2 L809.2 342.4 L809.8 342.4 L809.8 342 L810.4 342 L810.4 342.7 L811 342.7 L811 336.5 L811.6 336.5 L811.6 340.7 L812.2 340.7 L812.2 343.7 L812.8 343.7 L812.8 341.5 L813.4 341.5 L813.4 342.5 L814 342.5 L814 339.9 L814.6 339.9 L814.6 340.5 L815.2 340.5 L815.2 334 L815.8 334 L815.8 342.2 L816.4 342.2 L816.4 341.8 L817 341.8 L817 341.4 L817.6 341.4 L817.6 339.3 L818.2 339.3 L818.2 344.5 L818.8 344.5 L818.8 344.5 L819.4 344.5 L819.4 341.1 L820 341.1 L820 343.6 L820.6 343.6 L820.6 339.9 L821.2 339.9 L821.2 340.8 L821.8 340.8 L821.8 342.2 L822.4 342.2 L822.4 341.7 L823 341.7 L823 339.2 L823.6 339.2 L823.6 340.2 L824.2 340.2 L824.2 343.6 L824.8 343.6 L824.8 341.9 L825.4 341.9 L825.4 343.3 L826 343.3 L826 342.2 L826.6 342.2 L826.6 344.7 L827.2 344.7 L827.2 345.1 L827.8 345.1 L827.8 343 L828.4 343 L828.4 344.6 L829 344.6 L829 340 L829.6 340 L829.6 341.1 L830.2 341.1 L830.2 342.1 L830.8 342.1 L830.8 342.8 L831.4 342.8 L831.4 341.7 L832 341.7 L832 343 L832.6 343 L832.6 343.6 L833.2 343.6 L833.2 339 L833.8 339 L833.8 342 L834.4 342 L834.4 345.2 L835 345.2 L835 343.8 L835.6 343.8 L835.6 342.7 L836.2 342.7 L836.2 342.3 L836.8 342.3 L836.8 341.4 L837.4 341.4 L837.4 340.3 L838 340.3 L838 341.6 L838.6 341.6 L838.6 317.5 L839.2 317.5 L839.2 317.5 L839.8 317.5 L839.8 344.2 L840.4 344.2 L840.4 341.6 L841 341.6 L841 342.6 L841.6 342.6 L841.6 338.2 L842.2 338.2 L842.2 344 L842.8 344 L842.8 344.7 L843.4 344.7 L843.4 345 L844 345 L844 341.1 L844.6 341.1 L844.6 344.6 L845.2 344.6 L845.2 342.6 L845.8 342.6 L845.8 345.1 L846.4 345.1 L846.4 344.6 L847 344.6 L847 342.6 L847.6 342.6 L847.6 342.7 L848.2 342.7 L848.2 344.2 L848.8 344.2 L848.8 338.9 L849.4 338.9 L849.4 344.2 L850 344.2 L850 336.8 L850.6 336.8 L850.6 344.4 L851.2 344.4 L851.2 345.5 L851.8 345.5 L851.8 341.7 L852.4 341.7 L852.4 343.8 L853 343.8 L853 342.5 L853.6 342.5 L853.6 345.1 L854.2 345.1 L854.2 342.8 L854.8 342.8 L854.8 340.6 L855.4 340.6 L855.4 344.1 L856 344.1 L856 343.4 L856.6 343.4 L856.6 342.7 L857.2 342.7 L857.2 346.2 L857.8 346.2 L857.8 345.7 L858.4 345.7 L858.4 337.9 L859 337.9 L859 344.6 L859.6 344.6 L859.6 346.3 L860.2 346.3 L860.2 343.6 L860.8 343.6 L860.8 346.3 L861.4 346.3 L861.4 345.2 L862 345.2 L862 331.6 L862.6 331.6 L862.6 343.5 L863.2 343.5 L863.2 345.8 L863.8 345.8 L863.8 344.8 L864.4 344.8 L864.4 344 L865 344 L865 344.8 L865.6 344.8 L865.6 346.5 L866.2 346.5 L866.2 345.8 L866.8 345.8 L866.8 346.7 L867.4 346.7 L867.4 344 L868 344 L868 344.2 L868.6 344.2 L868.6 346.2 L869.2 346.2 L869.2 343.5 L869.8 343.5 L869.8 343.5 L870.4 343.5 L870.4 346.6 L871 346.6 L871 345.5 L871.6 345.5 L871.6 343.3 L872.2 343.3 L872.2 342.7 L872.8 342.7 L872.8 345.1 L873.4 345.1 L873.4 343.4 L874 343.4 L874 342.5 L874.6 342.5 L874.6 343 L875.2 343 L875.2 344.2 L875.8 344.2 L875.8 342.9 L876.4 342.9 L876.4 343 L877 343 L877 343.3 L877.6 343.3 L877.6 342.8 L878.2 342.8 L878.2 345.3 L878.8 345.3 L878.8 346.5 L879.4 346.5 L879.4 346.8 L880 346.8 L880 345.9 L880.6 345.9 L880.6 344.5 L881.2 344.5 L881.2 345.2 L881.8 345.2 L881.8 342.8 L882.4 342.8 L882.4 345.6 L883 345.6 L883 346.4 L883.6 346.4 L883.6 346.4 L884.2 346.4 L884.2 342.9 L884.8 342.9 L884.8 347.3 L885.4 347.3 L885.4 346.1 L886 346.1 L886 336 L886.6 336 L886.6 344.3 L887.2 344.3 L887.2 345.3 L887.8 345.3 L887.8 343.7 L888.4 343.7 L888.4 345.6 L889 345.6 L889 345.7 L889.6 345.7 L889.6 344.3 L890.2 344.3 L890.2 344.5 L890.8 344.5 L890.8 344.2 L891.4 344.2 L891.4 346.6 L892 346.6 L892 341.8 L892.6 341.8 L892.6 346.8 L893.2 346.8 L893.2 345.1 L893.8 345.1 L893.8 343 L894.4 343 L894.4 347.4 L895 347.4 L895 344.2 L895.6 344.2 L895.6 345.3 L896.2 345.3 L896.2 346.1 L896.8 346.1 L896.8 342.7 L897.4 342.7 L897.4 333 L898 333 L898 347.4 L898.6 347.4 L898.6 347.2 L899.2 347.2 L899.2 344.4 L899.8 344.4 L899.8 347.3 L900.4 347.3 L900.4 344.9 L901 344.9 L901 345.7 L901.6 345.7 L901.6 344.5 L902.2 344.5 L902.2 344.2 L902.8 344.2 L902.8 345.1 L903.4 345.1 L903.4 342.7 L904 342.7 L904 347.2 L904.6 347.2 L904.6 346.4 L905.2 346.4 L905.2 348.1 L905.8 348.1 L905.8 346.2 L906.4 346.2 L906.4 344.9 L907 344.9 L907 347.5 L907.6 347.5 L907.6 346.8 L908.2 346.8 L908.2 347.3 L908.8 347.3 L908.8 333 L909.4 333 L909.4 347.2 L910 347.2 L910 344.3 L910.6 344.3 L910.6 348.7 L911.2 348.7 L911.2 348.5 L911.8 348.5 L911.8 347.7 L912.4 347.7 L912.4 346.7 L913 346.7 L913 348.3 L913.6 348.3 L913.6 346.5 L914.2 346.5 L914.2 349.3 L914.8 349.3 L914.8 347.9 L915.4 347.9 L915.4 349.1 L916 349.1 L916 347.3 L916.6 347.3 L916.6 347.6 L917.2 347.6 L917.2 348.4 L917.8 348.4 L917.8 349.6 L918.4 349.6 L918.4 348.9 L919 348.9 L919 347.7 L919.6 347.7 L919.6 349.9 L920.2 349.9 L920.2 348.7 L920.8 348.7 L920.8 347.9 L921.4 347.9 L921.4 349.9 L922 349.9 L922 348.8 L922.6 348.8 L922.6 347.7 L923.2 347.7 L923.2 348.5 L923.8 348.5 L923.8 347.8 L924.4 347.8 L924.4 348.6 L925 348.6 L925 348.4 L925.6 348.4 L925.6 346.6 L926.2 346.6 L926.2 349.9 L926.8 349.9 L926.8 347.9 L927.4 347.9 L927.4 349.7 L928 349.7 L928 349.6 L928.6 349.6 L928.6 348.6 L929.2 348.6 L929.2 349.6 L929.8 349.6 L929.8 348.7 L930.4 348.7 L930.4 349.3 L931 349.3 L931 350.3 L931.6 350.3 L931.6 348.5 L932.2 348.5 L932.2 349 L932.8 349 L932.8 349.7 L933.4 349.7 L933.4 348.3 L934 348.3 L934 350.3 L934.6 350.3 L934.6 349.3 L935.2 349.3 L935.2 348.9 L935.8 348.9 L935.8 348.7 L936.4 348.7 L936.4 349.8 L937 349.8 L937 349.9 L937.6 349.9 L937.6 350 L938.2 350 L938.2 350 L938.8 350 L938.8 349 L939.4 349 L939.4 349.4 L940 349.4 L940 350.1 L940.6 350.1 L940.6 350.4 L941.2 350.4 L941.2 350.7 L941.8 350.7 L941.8 333 L942.4 333 L942.4 350.2 L943 350.2 L943 350.7 L943.6 350.7 L943.6 349.2 L944.2 349.2 L944.2 350.6 L944.8 350.6 L944.8 350.7 L945.4 350.7 L945.4 350.4 L946 350.4 L946 350.7 L946.6 350.7 L946.6 350.2 L947.2 350.2 L947.2 347.9 L947.8 347.9 L947.8 349.4 L948.4 349.4 L948.4 350.7 L949 350.7 L949 350.9 L949.6 350.9 L949.6 348.1 L950.2 348.1 L950.2 349.8 L950.8 349.8 L950.8 351 L951.4 351 L951.4 350.3 L952 350.3 L952 350.3 L952.6 350.3 L952.6 349.2 L953.2 349.2 L953.2 350.7 L953.8 350.7 L953.8 350.8 L954.4 350.8 L954.4 350.8 L955 350.8 L955 350.1 L955.6 350.1 L955.6 348.8 L956.2 348.8 L956.2 349 L956.8 349 L956.8 349.3 L957.4 349.3 L957.4 349.9 L958 349.9 L958 349.5 L958.6 349.5 L958.6 349.8 L959.2 349.8 L959.2 349.8 L959.8 349.8 L959.8 349.4 L960.4 349.4 L960.4 349.1 L961 349.1 L961 350.7 L961.6 350.7 L961.6 350.7 L962.2 350.7 L962.2 348.7 L962.8 348.7 L962.8 349.9 L963.4 349.9 L963.4 349.6 L964 349.6 L964 349.1 L964.6 349.1 L964.6 348.9 L965.2 348.9 L965.2 350.8 L965.8 350.8 L965.8 350.6 L966.4 350.6 L966.4 350.6 L967 350.6 L967 349 L967.6 349 L967.6 349.2 L968.2 349.2 L968.2 349.6 L968.8 349.6 L968.8 349.7 L969.4 349.7 L969.4 349.2 L970 349.2 L970 350.4 L970.6 350.4 L970.6 349.5 L971.2 349.5 L971.2 350.7 L971.8 350.7 L971.8 348.8 L972.4 348.8 L972.4 350.3 L973 350.3 L973 348.4 L973.6 348.4 L973.6 348.9 L974.2 348.9 L974.2 348.5 L974.8 348.5 L974.8 350.3 L975.4 350.3 L975.4 350.1 L976 350.1 L976 348.5 L976.6 348.5 L976.6 350.3 L977.2 350.3 L977.2 350 L977.8 350 L977.8 348.9 L978.4 348.9 L978.4 349.5 L979 349.5 L979 349.5 L979.6 349.5 L979.6 349.5 L980.2 349.5 L980.2 348.8 L980.8 348.8 L980.8 349.2 L981.4 349.2 L981.4 350.4 L982 350.4 L982 347.9 L982.6 347.9 L982.6 349.5 L983.2 349.5 L983.2 347.4 L983.8 347.4 L983.8 349.6 L984.4 349.6 L984.4 350.1 L985 350.1 L985 348.4 L985.6 348.4 L985.6 350 L986.2 350 L986.2 350.4 L986.8 350.4 L986.8 349.9 L987.4 349.9 L987.4 348.5 L988 348.5 L988 349.9 L988.6 349.9 L988.6 348.5 L989.2 348.5 L989.2 349.6 L989.8 349.6 L989.8 349.5 L990.4 349.5 L990.4 347.9 L991 347.9 L991 347.1 L991.6 347.1 L991.6 347 L992.2 347 L992.2 345.1 L992.8 345.1 L992.8 344.1 L993.4 344.1 L993.4 344.1 L994 344.1 L994 345.6 L994.6 345.6 L994.6 342.4 L995.2 342.4 L995.2 344.9 L995.8 344.9 L995.8 340.7 L996.4 340.7 L996.4 344.6 L997 344.6 L997 342.6 L997.6 342.6 L997.6 339.1 L998.2 339.1 L998.2 340.2 L998.8 340.2 L998.8 343.8 L999.4 343.8 L999.4 343.6 L1000 343.6 L1000 330.5 L1000.6 330.5 L1000.6 343.1 L1001.2 343.1 L1001.2 343.4 L1001.8 343.4 L1001.8 346.4 L1002.4 346.4 L1002.4 345.2 L1003 345.2 L1003 345.3 L1003.6 345.3 L1003.6 346.8 L1004.2 346.8 L1004.2 345.6 L1004.8 345.6 L1004.8 346.8 L1005.4 346.8 L1005.4 346.9 L1006 346.9 L1006 345.3 L1006.6 345.3 L1006.6 342 L1007.2 342 L1007.2 343.4 L1007.8 343.4 L1007.8 344.7 L1008.4 344.7 L1008.4 343.5 L1009 343.5 L1009 343.3 L1009.6 343.3 L1009.6 342.8 L1010.2 342.8 L1010.2 343.8 L1010.8 343.8 L1010.8 344.5 L1011.4 344.5 L1011.4 344.5 L1012 344.5 L1012 338 L1012.6 338 L1012.6 344 L1013.2 344 L1013.2 340.3 L1013.8 340.3 L1013.8 345.1 L1014.4 345.1 L1014.4 346.1 L1015 346.1 L1015 346.2 L1015.6 346.2 L1015.6 344.6 L1016.2 344.6 L1016.2 345.4 L1016.8 345.4 L1016.8 346.8 L1017.4 346.8 L1017.4 343.4 L1018 343.4 L1018 343.2 L1018.6 343.2 L1018.6 346.4 L1019.2 346.4 L1019.2 343.4 L1019.8 343.4 L1019.8 342.4 L1020.4 342.4 L1020.4 346.6 L1021 346.6 L1021 345.2 L1021.6 345.2 L1021.6 342.6 L1022.2 342.6 L1022.2 346.2 L1022.8 346.2 L1022.8 345.4 L1023.4 345.4 L1023.4 346.2 L1024 346.2 L1024 344.8 L1024.6 344.8 L1024.6 344.7 L1025.2 344.7 L1025.2 342.3 L1025.8 342.3 L1025.8 342.4 L1026.4 342.4 L1026.4 345.6 L1027 345.6 L1027 344.5 L1027.6 344.5 L1027.6 343.8 L1028.2 343.8 L1028.2 342 L1028.8 342 L1028.8 346.6 L1029.4 346.6 L1029.4 345.6 L1030 345.6 L1030 340.9 L1030.6 340.9 L1030.6 344.5 L1031.2 344.5 L1031.2 339.8 L1031.8 339.8 L1031.8 343.5 L1032.4 343.5 L1032.4 336.7 L1033 336.7 L1033 339 L1033.6 339 L1033.6 335.6 L1034.2 335.6 L1034.2 325.8 L1034.8 325.8 L1034.8 336.7 L1035.4 336.7 L1035.4 337.6 L1036 337.6 L1036 336.1 L1036.6 336.1 L1036.6 341.9 L1037.2 341.9 L1037.2 329 L1037.8 329 L1037.8 339.5 L1038.4 339.5 L1038.4 340.5 L1039 340.5 L1039 345.3 L1039.6 345.3 L1039.6 342.1 L1040.2 342.1 L1040.2 346.4 L1040.8 346.4 L1040.8 343.2 L1041.4 343.2 L1041.4 342.4 L1042 342.4 L1042 344.5 L1042.6 344.5 L1042.6 343.5 L1043.2 343.5 L1043.2 344.9 L1043.8 344.9 L1043.8 346.4 L1044.4 346.4 L1044.4 343.3 L1045 343.3 L1045 344.5 L1045.6 344.5 L1045.6 344.6 L1046.2 344.6 L1046.2 344.1 L1046.8 344.1 L1046.8 346.7 L1047.4 346.7 L1047.4 345.6 L1048 345.6 L1048 345.7 L1048.6 345.7 L1048.6 343.5 L1049.2 343.5 L1049.2 338.5 L1049.8 338.5 L1049.8 343.9 L1050.4 343.9 L1050.4 343.9 L1051 343.9 L1051 345.2 L1051.6 345.2 L1051.6 339.3 L1052.2 339.3 L1052.2 342.6 L1052.8 342.6 L1052.8 344 L1053.4 344 L1053.4 342.4 L1054 342.4 L1054 342.2 L1054.6 342.2 L1054.6 346.7 L1055.2 346.7 L1055.2 343.9 L1055.8 343.9 L1055.8 344 L1056.4 344 L1056.4 346.8 L1057 346.8 L1057 344 L1057.6 344 L1057.6 344.1 L1058.2 344.1 L1058.2 343.3 L1058.8 343.3 L1058.8 344.7 L1059.4 344.7 L1059.4 341 L1060 341 L1060 345.3 L1060.6 345.3 L1060.6 345.1 L1061.2 345.1 L1061.2 343.7 L1061.8 343.7 L1061.8 345.5 L1062.4 345.5 L1062.4 346.3 L1063 346.3 L1063 345 L1063.6 345 L1063.6 345.4 L1064.2 345.4 L1064.2 346 L1064.8 346 L1064.8 341.2 L1065.4 341.2 L1065.4 342.9 L1066 342.9 L1066 344.7 L1066.6 344.7 L1066.6 345.8 L1067.2 345.8 L1067.2 346.7 L1067.8 346.7 L1067.8 345.7 L1068.4 345.7 L1068.4 343.5 L1069 343.5 L1069 344.3 L1069.6 344.3 L1069.6 342 L1070.2 342 L1070.2 343.6 L1070.8 343.6 L1070.8 342.6 L1071.4 342.6 L1071.4 346.3 L1072 346.3 L1072 344.3 L1072.6 344.3 L1072.6 346.5 L1073.2 346.5 L1073.2 328 L1073.8 328 L1073.8 342.8 L1074.4 342.8 L1074.4 346.9 L1075 346.9 L1075 346 L1075.6 346 L1075.6 345.9 L1076.2 345.9 L1076.2 345.8 L1076.8 345.8 L1076.8 343.3 L1077.4 343.3 L1077.4 343.4 L1078 343.4 L1078 346.2 L1078.6 346.2 L1078.6 346.9 L1079.2 346.9 L1079.2 347 L1079.8 347 L1079.8 343.3 L1080.4 343.3 L1080.4 344.3 L1081 344.3 L1081 347.4 L1081.6 347.4 L1081.6 347.2 L1082.2 347.2 L1082.2 344 L1082.8 344 L1082.8 340.6 L1083.4 340.6 L1083.4 347.3 L1084 347.3 L1084 343.7 L1084.6 343.7 L1084.6 347.1 L1085.2 347.1 L1085.2 344.7 L1085.8 344.7 L1085.8 344.4 L1086.4 344.4 L1086.4 345.9 L1087 345.9 L1087 346.5 L1087.6 346.5 L1087.6 344 L1088.2 344 L1088.2 344.5 L1088.8 344.5 L1088.8 340.1 L1089.4 340.1 L1089.4 344.7 L1090 344.7 L1090 345.4 L1090.6 345.4 L1090.6 340.2 L1091.2 340.2 L1091.2 343.4 L1091.8 343.4 L1091.8 344.2 L1092.4 344.2 L1092.4 343.8 L1093 343.8 L1093 344.2 L1093.6 344.2 L1093.6 341 L1094.2 341 L1094.2 336.5 L1094.8 336.5 L1094.8 336.3 L1095.4 336.3 L1095.4 329.8 L1096 329.8 L1096 327.8 L1096.6 327.8 L1096.6 338.3 L1097.2 338.3 L1097.2 332.4 L1097.8 332.4 L1097.8 337.2 L1098.4 337.2 L1098.4 330.1 L1099 330.1 L1099 330 L1099.6 330 L1099.6 337.9 L1100.2 337.9 L1100.2 329.1 L1100.8 329.1 L1100.8 319.8 L1101.4 319.8 L1101.4 333.8 L1102 333.8 L1102 333.3 L1102.6 333.3 L1102.6 332.1 L1103.2 332.1 L1103.2 329.2 L1103.8 329.2 L1103.8 312.6 L1104.4 312.6 L1104.4 326.6 L1105 326.6 L1105 325.9 L1105.6 325.9 L1105.6 330.9 L1106.2 330.9 L1106.2 335.4 L1106.8 335.4 L1106.8 329.3 L1107.4 329.3 L1107.4 324.6 L1108 324.6 L1108 318 L1108.6 318 L1108.6 330 L1109.2 330 L1109.2 329.2 L1109.8 329.2 L1109.8 327.7 L1110.4 327.7 L1110.4 335 L1111 335 L1111 325 L1111.6 325 L1111.6 325.6 L1112.2 325.6 L1112.2 324.5 L1112.8 324.5 L1112.8 320 L1113.4 320 L1113.4 323.1 L1114 323.1 L1114 334.8 L1114.6 334.8 L1114.6 328.9 L1115.2 328.9 L1115.2 334.5 L1115.8 334.5 L1115.8 334.2 L1116.4 334.2 L1116.4 329.1 L1117 329.1 L1117 326.9 L1117.6 326.9 L1117.6 334.3 L1118.2 334.3 L1118.2 334.3 L1118.8 334.3 L1118.8 335.6 L1119.4 335.6 L1119.4 328.3 L1120 328.3 L1120 317.7 L1120.6 317.7 L1120.6 326.7 L1121.2 326.7 L1121.2 327 L1121.8 327 L1121.8 317.4 L1122.4 317.4 L1122.4 330.8 L1123 330.8 L1123 332.8 L1123.6 332.8 L1123.6 326.5 L1124.2 326.5 L1124.2 322 L1124.8 322 L1124.8 325.9 L1125.4 325.9 L1125.4 330.4 L1126 330.4 L1126 331.4 L1126.6 331.4 L1126.6 334.6 L1127.2 334.6 L1127.2 335.6 L1127.8 335.6 L1127.8 338 L1128.4 338 L1128.4 339.8 L1129 339.8 L1129 339.2 L1129.6 339.2 L1129.6 342.5 L1130.2 342.5 L1130.2 345.6 L1130.8 345.6 L1130.8 342.9 L1131.4 342.9 L1131.4 345.1 L1132 345.1 L1132 345.5 L1132.6 345.5 L1132.6 345.5 L1133.2 345.5 L1133.2 345.2 L1133.8 345.2 L1133.8 342.7 L1134.4 342.7 L1134.4 343 L1135 343 L1135 344.4 L1135.6 344.4 L1135.6 342.8 L1136.2 342.8 L1136.2 331.6 L1136.8 331.6 L1136.8 343.6 L1137.4 343.6 L1137.4 341 L1138 341 L1138 338.1 L1138.6 338.1 L1138.6 343.8 L1139.2 343.8 L1139.2 344.8 L1139.8 344.8 L1139.8 337 L1140.4 337 L1140.4 341.4 L1141 341.4 L1141 345.8 L1141.6 345.8 L1141.6 344.6 L1142.2 344.6 L1142.2 341.2 L1142.8 341.2 L1142.8 344.4 L1143.4 344.4 L1143.4 344.4 L1144 344.4 L1144 344.5 L1144.6 344.5 L1144.6 342.4 L1145.2 342.4 L1145.2 344.1 L1145.8 344.1 L1145.8 342.9 L1146.4 342.9 L1146.4 342.5 L1147 342.5 L1147 337.9 L1147.6 337.9 L1147.6 344.6 L1148.2 344.6 L1148.2 341.9 L1148.8 341.9 L1148.8 342 L1149.4 342 L1149.4 344 L1150 344 L1150 341.6 L1150.6 341.6 L1150.6 340.8 L1151.2 340.8 L1151.2 341 L1151.8 341 L1151.8 342.9 L1152.4 342.9 L1152.4 343.9 L1153 343.9 L1153 344.6 L1153.6 344.6 L1153.6 341.4 L1154.2 341.4 L1154.2 339 L1154.8 339 L1154.8 343.6 L1155.4 343.6 L1155.4 343 L1156 343 L1156 342.7 L1156.6 342.7 L1156.6 342.4 L1157.2 342.4 L1157.2 343 L1157.8 343 L1157.8 345.2 L1158.4 345.2 L1158.4 341.3 L1159 341.3 L1159 344.4 L1159.6 344.4 L1159.6 343.2 L1160.2 343.2 L1160.2 344.7 L1160.8 344.7 L1160.8 344.3 L1161.4 344.3 L1161.4 342.2 L1162 342.2 L1162 341.9 L1162.6 341.9 L1162.6 338.6 L1163.2 338.6 L1163.2 336.6 L1163.8 336.6 L1163.8 335.6 L1164.4 335.6 L1164.4 334.6 L1165 334.6 L1165 334.8 L1165.6 334.8 L1165.6 337.1 L1166.2 337.1 L1166.2 333.7 L1166.8 333.7 L1166.8 333.4 L1167.4 333.4 L1167.4 332 L1168 332 L1168 335.7 L1168.6 335.7 L1168.6 332.3 L1169.2 332.3 L1169.2 337.4 L1169.8 337.4 L1169.8 330 L1170.4 330 L1170.4 329.9 L1171 329.9 L1171 335.6 L1171.6 335.6 L1171.6 339 L1172.2 339 L1172.2 332.5 L1172.8 332.5 L1172.8 331.9 L1173.4 331.9 L1173.4 332.3 L1174 332.3 L1174 333.3 L1174.6 333.3 L1174.6 333 L1175.2 333 L1175.2 338.3 L1175.8 338.3 L1175.8 332.6 L1176.4 332.6 L1176.4 330.2 L1177 330.2 L1177 337.6 L1177.6 337.6 L1177.6 335.8 L1178.2 335.8 L1178.2 326 L1178.8 326 L1178.8 332.6 L1179.4 332.6 L1179.4 334.4 L1180 334.4 L1180 338.3 L1180.6 338.3 L1180.6 339.1 L1181.2 339.1 L1181.2 330.7 L1181.8 330.7 L1181.8 333.2 L1182.4 333.2 L1182.4 337.6 L1183 337.6 L1183 335.1 L1183.6 335.1 L1183.6 338.1 L1184.2 338.1 L1184.2 334.8 L1184.8 334.8 L1184.8 317.7 L1185.4 317.7 L1185.4 336.1 L1186 336.1 L1186 333.6 L1186.6 333.6 L1186.6 334.1 L1187.2 334.1 L1187.2 338.7 L1187.8 338.7 L1187.8 334.6 L1188.4 334.6 L1188.4 337.7 L1189 337.7 L1189 335.1 L1189.6 335.1 L1189.6 333.6 L1190.2 333.6 L1190.2 328 L1190.8 328 L1190.8 331.8 L1191.4 331.8 L1191.4 336.9 L1192 336.9 L1192 334.1 L1192.6 334.1 L1192.6 336.8 L1193.2 336.8 L1193.2 335.1 L1193.8 335.1 L1193.8 336.8 L1194.4 336.8 L1194.4 336.7 L1195 336.7 L1195 335.1 L1195.6 335.1 L1195.6 334.5 L1196.2 334.5 L1196.2 335.5 L1196.8 335.5 L1196.8 332.9 L1197.4 332.9 L1197.4 340.6 L1198 340.6 L1198 328.7 L1198.6 328.7 L1198.6 333.9 L1199.2 333.9 L1199.2 339.5 L1199.8 339.5 L1199.8 343.3 L1200.4 343.3 L1200.4 335.3 L1201 335.3 L1201 340.4 L1201.6 340.4 L1201.6 339.4 L1202.2 339.4 L1202.2 339.8 L1202.8 339.8 L1202.8 339.2 L1203.4 339.2 L1203.4 341.2 L1204 341.2 L1204 342.9 L1204.6 342.9 L1204.6 340.5 L1205.2 340.5 L1205.2 340.4 L1205.8 340.4 L1205.8 341.8 L1206.4 341.8 L1206.4 343 L1207 343 L1207 342.4 L1207.6 342.4 L1207.6 339.1 L1208.2 339.1 L1208.2 339.1 L1208.8 339.1 L1208.8 338.7 L1209.4 338.7 L1209.4 341.4 L1210 341.4 L1210 340.7 L1210.6 340.7 L1210.6 342.5 L1211.2 342.5 L1211.2 339.4 L1211.8 339.4 L1211.8 343.4 L1212.4 343.4 L1212.4 340.1 L1213 340.1 L1213 341.9 L1213.6 341.9 L1213.6 327.8 L1214.2 327.8 L1214.2 339.2 L1214.8 339.2 L1214.8 339.6 L1215.4 339.6 L1215 354.5 Z" fill="#f1f2f6"/>
  <line x1="16" x2="1216" y1="354.5" y2="354.5" stroke="#ececf0" stroke-width="1"/>
  <line x1="80.0" x2="80.0" y1="354.5" y2="361.5" stroke="#ededf1" stroke-width="1"/><line x1="173.8" x2="173.8" y1="354.5" y2="361.5" stroke="#ededf1" stroke-width="1"/><line x1="267.3" x2="267.3" y1="354.5" y2="361.5" stroke="#ededf1" stroke-width="1"/><line x1="361.1" x2="361.1" y1="354.5" y2="361.5" stroke="#ededf1" stroke-width="1"/><line x1="454.7" x2="454.7" y1="354.5" y2="361.5" stroke="#ededf1" stroke-width="1"/><line x1="548.3" x2="548.3" y1="354.5" y2="361.5" stroke="#ededf1" stroke-width="1"/><line x1="641.9" x2="641.9" y1="354.5" y2="361.5" stroke="#ededf1" stroke-width="1"/><line x1="735.5" x2="735.5" y1="354.5" y2="361.5" stroke="#ededf1" stroke-width="1"/><line x1="829.0" x2="829.0" y1="354.5" y2="361.5" stroke="#ededf1" stroke-width="1"/><line x1="922.8" x2="922.8" y1="354.5" y2="361.5" stroke="#ededf1" stroke-width="1"/><line x1="1016.6" x2="1016.6" y1="354.5" y2="361.5" stroke="#ededf1" stroke-width="1"/><line x1="1110.4" x2="1110.4" y1="354.5" y2="361.5" stroke="#ededf1" stroke-width="1"/><line x1="1205.0" x2="1205.0" y1="354.5" y2="361.5" stroke="#ededf1" stroke-width="1"/>
  <path d="M16 303 L16.6 303 L17.2 303 L17.8 303 L18.4 303 L19 303 L19.6 303 L20.2 303 L20.8 303 L21.4 303 L22 303 L22.6 303 L23.2 303 L23.8 303 L24.4 303 L25 303 L25.6 303 L26.2 303 L26.8 303 L27.4 303 L28 303 L28.6 303 L29.2 303 L29.8 303 L30.4 303 L31 303 L31.6 303 L32.2 303 L32.8 303 L33.4 303 L34 303 L34.6 303 L35.2 303 L35.8 303 L36.4 303 L37 303 L37.6 303 L38.2 303 L38.8 303 L39.4 303 L40 303 L40.6 303 L41.2 303 L41.8 303 L42.4 303 L43 303 L43.6 303 L44.2 303 L44.8 303 L45.4 303 L46 303 L46.6 303 L47.2 303 L47.8 303 L48.4 303 L49 303 L49.6 303 L50.2 303 L50.8 303 L51.4 303 L52 303 L52.6 303 L53.2 303 L53.8 303 L54.4 303 L55 303 L55.6 303 L56.2 303 L56.8 303 L57.4 303 L58 303 L58.6 303 L59.2 303 L59.8 303 L60.4 303 L61 303 L61.6 303 L62.2 303 L62.8 303 L63.4 303 L64 303 L64.6 303 L65.2 303 L65.8 303 L66.4 303 L67 303 L67.6 303 L68.2 303 L68.8 303 L69.4 303 L70 303 L70.6 303 L71.2 303 L71.8 303 L72.4 303 L73 303 L73.6 303 L74.2 303 L74.8 303 L75.4 303 L76 303 L76.6 303 L77.2 303 L77.8 303 L78.4 303 L79 303 L79.6 303 L80.2 303 L80.8 303 L81.4 303 L82 303 L82.6 303 L83.2 303 L83.8 303 L84.4 303 L85 303 L85.6 303 L86.2 303 L86.8 303 L87.4 303 L88 303 L88.6 303 L89.2 303 L89.8 303 L90.4 303 L91 303 L91.6 303 L92.2 303 L92.8 303 L93.4 303 L94 303 L94.6 303 L95.2 303 L95.8 303 L96.4 303 L97 303 L97.6 303 L98.2 303 L98.8 303 L99.4 303 L100 303 L100.6 303 L101.2 303 L101.8 303 L102.4 303 L103 303 L103.6 303 L104.2 303 L104.8 303 L105.4 303 L106 303 L106.6 303 L107.2 303 L107.8 303 L108.4 303 L109 303 L109.6 303 L110.2 303 L110.8 303 L111.4 303 L112 303 L112.7 303 L113.3 303 L113.9 303 L114.5 303 L115.1 303 L115.7 303 L116.3 303 L116.9 303 L117.5 303 L118.1 303 L118.7 303 L119.3 303 L119.9 303 L120.5 303 L121.1 303 L121.7 303 L122.3 303 L122.9 303 L123.5 303 L124.1 303 L124.7 303 L125.3 303 L125.9 303 L126.5 303 L127.1 303 L127.7 303 L128.3 303 L128.9 303 L129.5 303 L130.1 303 L130.7 303 L131.3 303 L131.9 303 L132.5 303 L133.1 303 L133.7 303 L134.3 303 L134.9 303 L135.5 303 L136.1 303 L136.7 303 L137.3 303 L138 303 L138.6 303 L139.2 303 L139.8 303 L140.4 303 L141 303 L141.6 303 L142.2 303 L142.8 303 L143.4 303 L144 303 L144.6 303 L145.2 303 L145.8 303 L146.4 303 L147 303 L147.6 303 L148.2 303 L148.8 303 L149.4 303 L150 302.9 L150.6 302.9 L151.2 302.9 L151.8 302.9 L152.4 302.9 L153 302.9 L153.6 302.9 L154.2 302.9 L154.8 302.9 L155.4 302.9 L156 302.9 L156.6 302.9 L157.2 302.9 L157.8 302.9 L158.4 302.9 L159 302.9 L159.6 302.9 L160.2 302.9 L160.8 302.9 L161.4 302.9 L162 302.9 L162.7 302.9 L163.3 302.9 L163.9 302.9 L164.5 302.9 L165.1 302.9 L165.7 302.9 L166.3 302.9 L166.9 302.9 L167.5 302.9 L168.1 302.9 L168.7 302.9 L169.3 302.9 L169.9 302.9 L170.5 302.9 L171.1 302.9 L171.7 302.9 L172.3 302.9 L172.9 302.9 L173.5 302.9 L174.1 302.9 L174.7 302.9 L175.3 302.9 L175.9 302.9 L176.5 302.9 L177.1 302.9 L177.7 302.9 L178.3 302.9 L178.9 302.9 L179.5 302.9 L180.1 302.9 L180.7 302.9 L181.3 302.9 L181.9 302.9 L182.5 302.9 L183.1 302.9 L183.7 302.9 L184.3 302.9 L184.9 302.9 L185.5 302.9 L186.1 302.9 L186.7 302.9 L187.3 302.9 L188 302.9 L188.6 302.9 L189.2 302.9 L189.8 302.9 L190.4 302.9 L191 302.9 L191.6 302.9 L192.2 302.9 L192.8 302.9 L193.4 302.9 L194 302.9 L194.6 302.9 L195.2 302.9 L195.8 302.9 L196.4 302.9 L197 302.9 L197.6 302.9 L198.2 302.9 L198.8 302.9 L199.4 302.9 L200 302.9 L200.6 302.9 L201.2 302.9 L201.8 302.9 L202.4 302.9 L203 302.9 L203.6 302.9 L204.2 302.9 L204.8 302.9 L205.4 302.9 L206 302.9 L206.6 302.9 L207.2 302.9 L207.8 302.9 L208.4 302.9 L209 302.9 L209.6 302.9 L210.2 302.9 L210.8 302.9 L211.4 302.9 L212 302.9 L212.7 302.9 L213.3 302.9 L213.9 302.9 L214.5 302.9 L215.1 302.9 L215.7 302.9 L216.3 302.9 L216.9 302.9 L217.5 302.9 L218.1 302.9 L218.7 302.9 L219.3 302.9 L219.9 302.9 L220.5 302.9 L221.1 302.9 L221.7 302.9 L222.3 302.9 L222.9 302.9 L223.5 302.9 L224.1 302.9 L224.7 302.9 L225.3 302.9 L225.9 302.9 L226.5 302.9 L227.1 302.9 L227.7 302.9 L228.3 302.9 L228.9 302.9 L229.5 302.9 L230.1 302.9 L230.7 302.9 L231.3 302.9 L231.9 302.9 L232.5 302.9 L233.1 302.9 L233.7 302.9 L234.3 302.9 L234.9 302.9 L235.5 302.9 L236.1 302.9 L236.7 302.9 L237.3 302.9 L238 302.9 L238.6 302.9 L239.2 302.9 L239.8 302.9 L240.4 302.9 L241 302.9 L241.6 302.9 L242.2 302.9 L242.8 302.9 L243.4 302.9 L244 302.9 L244.6 302.9 L245.2 302.9 L245.8 302.9 L246.4 302.9 L247 302.9 L247.6 302.9 L248.2 302.9 L248.8 302.9 L249.4 302.9 L250 302.9 L250.6 302.9 L251.2 302.9 L251.8 302.9 L252.4 302.9 L253 302.9 L253.6 302.9 L254.2 302.9 L254.8 302.9 L255.4 302.9 L256 302.9 L256.6 302.9 L257.2 302.9 L257.8 302.9 L258.4 302.9 L259 302.9 L259.6 302.9 L260.2 302.9 L260.8 302.9 L261.4 302.9 L262 302.9 L262.7 302.9 L263.3 302.9 L263.9 302.9 L264.5 302.9 L265.1 302.9 L265.7 302.9 L266.3 302.9 L266.9 302.9 L267.5 302.9 L268.1 302.9 L268.7 302.9 L269.3 302.9 L269.9 302.9 L270.5 302.9 L271.1 302.9 L271.7 302.9 L272.3 302.9 L272.9 302.9 L273.5 302.9 L274.1 302.9 L274.7 302.9 L275.3 302.9 L275.9 302.9 L276.5 302.9 L277.1 302.9 L277.7 302.9 L278.3 302.9 L278.9 302.9 L279.5 302.9 L280.1 302.9 L280.7 302.9 L281.3 302.9 L281.9 302.9 L282.5 302.9 L283.1 302.9 L283.7 302.9 L284.3 302.9 L284.9 302.9 L285.5 302.9 L286.1 302.9 L286.7 302.9 L287.3 302.9 L288 302.9 L288.6 302.9 L289.2 302.9 L289.8 302.9 L290.4 302.9 L291 302.9 L291.6 302.9 L292.2 302.9 L292.8 302.9 L293.4 302.9 L294 302.9 L294.6 302.9 L295.2 302.9 L295.8 302.9 L296.4 302.9 L297 302.9 L297.6 302.9 L298.2 302.9 L298.8 302.9 L299.4 302.9 L300 302.9 L300.6 302.9 L301.2 302.9 L301.8 302.9 L302.4 302.9 L303 302.9 L303.6 302.9 L304.2 302.9 L304.8 302.9 L305.4 302.9 L306 302.9 L306.6 302.9 L307.2 302.9 L307.8 302.9 L308.4 302.9 L309.1 302.9 L309.7 302.9 L310.3 302.9 L310.9 302.9 L311.5 302.9 L312.1 302.9 L312.7 302.9 L313.3 302.9 L313.9 302.9 L314.5 302.9 L315.1 302.9 L315.7 302.9 L316.3 302.9 L316.9 302.9 L317.5 302.9 L318.1 302.9 L318.7 302.9 L319.3 302.9 L319.9 302.9 L320.5 302.9 L321.1 302.9 L321.7 302.9 L322.3 302.9 L322.9 302.9 L323.5 302.9 L324.1 302.9 L324.7 302.9 L325.3 302.9 L325.9 302.9 L326.6 302.9 L327.2 302.9 L327.8 302.9 L328.4 302.9 L329 302.9 L329.6 302.9 L330.2 302.9 L330.8 302.9 L331.4 302.9 L332 302.9 L332.6 302.9 L333.2 302.9 L333.8 302.9 L334.4 302.9 L335 302.9 L335.6 302.8 L336.2 302.8 L336.8 302.8 L337.4 302.8 L338 302.8 L338.6 302.8 L339.2 302.8 L339.8 302.8 L340.4 302.8 L341 302.8 L341.6 302.8 L342.2 302.8 L342.8 302.8 L343.4 302.8 L344.1 302.8 L344.7 302.8 L345.3 302.8 L345.9 302.8 L346.5 302.8 L347.1 302.8 L347.7 302.8 L348.3 302.8 L348.9 302.8 L349.5 302.8 L350.1 302.8 L350.7 302.8 L351.3 302.8 L351.9 302.8 L352.5 302.8 L353.1 302.8 L353.7 302.8 L354.3 302.8 L354.9 302.8 L355.5 302.8 L356.1 302.8 L356.7 302.8 L357.3 302.8 L357.9 302.8 L358.5 302.8 L359.1 302.8 L359.7 302.8 L360.3 302.8 L360.9 302.8 L361.6 302.8 L362.2 302.8 L362.8 302.8 L363.4 302.8 L364 302.8 L364.6 302.8 L365.2 302.8 L365.8 302.8 L366.4 302.8 L367 302.8 L367.6 302.8 L368.2 302.8 L368.8 302.8 L369.4 302.8 L370 302.8 L370.6 302.8 L371.2 302.8 L371.8 302.8 L372.4 302.8 L373 302.8 L373.6 302.8 L374.2 302.8 L374.8 302.7 L375.4 302.7 L376 302.7 L376.6 302.7 L377.2 302.7 L377.8 302.7 L378.4 302.7 L379 302.7 L379.6 302.7 L380.2 302.7 L380.8 302.7 L381.4 302.7 L382 302.7 L382.6 302.7 L383.2 302.7 L383.8 302.6 L384.4 302.6 L385 302.6 L385.6 302.6 L386.2 302.6 L386.8 302.6 L387.4 302.6 L388 302.6 L388.7 302.6 L389.4 302.5 L390.1 302.4 L390.8 302.4 L391.4 302.2 L392.1 302.1 L392.7 302 L393.3 301.9 L394 301.8 L394.6 301.4 L395.2 301.4 L395.8 301.3 L396.4 300.6 L397 300.7 L397.7 300.8 L398.3 300.4 L398.9 300.4 L399.5 299.7 L400.1 299.8 L400.7 299.7 L401.4 299.5 L402 299.6 L402.6 299.5 L403.3 299.1 L403.9 299.3 L404.5 299.2 L405.2 299.3 L405.8 299.7 L406.4 299.7 L407 299.4 L407.7 299.8 L408.3 299.7 L409 299.8 L409.6 300.5 L410.3 300.5 L411 301.1 L411.7 300.5 L412.4 300.8 L413 300.1 L413.7 300 L414.4 299.7 L415.1 300 L415.8 299.9 L416.5 299.5 L417.2 299 L417.8 299.1 L418.5 298.5 L419.1 298.3 L419.8 297.8 L420.4 297.5 L421.1 297.8 L421.7 297.5 L422.4 297.5 L423 297.1 L423.9 297.7 L424.7 297.7 L425.5 298.5 L426.3 299.5 L427 299.2 L427.6 298.9 L428.3 298.7 L429 298.7 L429.6 298.3 L430.3 298.3 L430.9 298.3 L431.6 297.8 L432.2 298.1 L432.9 297.8 L433.5 297.7 L434.1 297.7 L434.7 298 L435.4 297.8 L436 297.7 L436.6 297.8 L437.2 297.8 L437.9 297.7 L438.6 297 L439.4 297.4 L440.1 296.8 L440.7 296.3 L441.4 296.7 L442 296.6 L442.6 296.2 L443.2 295.3 L443.8 295.4 L444.4 294.5 L445 294.2 L445.6 293.6 L446.3 292.4 L447 291.6 L447.7 291.1 L448.5 288.3 L449.4 286.1 L450 284.6 L450.6 282.3 L451.4 283.7 L452.1 285.6 L452.9 284 L453.6 281.8 L454.5 278.7 L455.3 274.7 L456.5 275.9 L457.4 278.5 L458.2 283.9 L459.1 282.7 L460.3 283.9 L461 285.8 L461.6 286.9 L462.8 292.4 L463.5 290.8 L464.1 289.4 L465 287.8 L465.8 286.5 L466.6 287.4 L467.5 288.2 L468.4 288.2 L469.2 287.7 L470 288.4 L470.8 289.8 L471.6 291.1 L472.5 291.9 L473.2 292.2 L473.9 292.3 L474.6 292.1 L475.3 292.4 L476 293.8 L476.7 294.1 L477.5 294.2 L478.4 294.9 L479.1 293.8 L479.8 293 L480.5 291.9 L481.2 291.3 L481.9 289.8 L482.6 289 L483.2 289 L483.9 288.4 L484.6 287.9 L485.2 287.7 L485.9 288 L486.6 288.3 L487.3 289 L487.9 289.1 L488.6 289.6 L489.2 290.4 L489.8 290.7 L490.4 291.5 L491.1 291.3 L491.7 291.6 L492.3 292.4 L493.1 292.5 L494 291.8 L494.6 292.3 L495.2 292.6 L495.9 293 L496.5 293.6 L497.2 293.9 L497.9 294.2 L498.5 294.1 L499.2 294.3 L499.9 294.5 L500.5 294.1 L501.1 294.6 L501.8 293.9 L502.4 294.1 L503.1 293.8 L503.8 293.8 L504.4 293 L505.1 293.2 L505.8 292.8 L506.4 293.5 L507.1 293.5 L507.7 294 L508.3 294.1 L509 294.4 L509.6 295.1 L510.3 295.5 L511 296.2 L511.6 296.4 L512.2 295.9 L512.9 295.8 L513.5 296.1 L514.1 295.9 L514.8 295.8 L515.4 295.3 L516 295.2 L516.7 295.6 L517.4 296.1 L518 296.2 L518.7 296.4 L519.4 296.9 L520 296.6 L520.6 296.1 L521.3 296 L521.9 296.2 L522.5 295.6 L523.1 295.9 L523.8 295.7 L524.4 295.6 L525 295.5 L525.6 295.3 L526.2 295.6 L526.9 295.5 L527.5 295.8 L528.1 295.9 L528.8 295.6 L529.4 295.9 L530 295.9 L530.6 295.9 L531.2 295.9 L531.9 296 L532.5 295.8 L533.1 296 L533.8 295.9 L534.4 296.2 L535 296.8 L535.6 297.4 L536.2 297.8 L536.9 297.9 L537.5 298.5 L538.1 298.9 L538.8 298.9 L539.4 299 L540 298.8 L540.6 299.3 L541.2 299.3 L541.9 299.7 L542.5 299.8 L543.1 299.6 L543.8 299.6 L544.4 299.3 L545 299.3 L545.6 298.8 L546.2 298.8 L546.9 298.9 L547.5 299 L548.1 299.1 L548.8 298.9 L549.4 299.3 L550 299.4 L550.6 299.3 L551.2 299.6 L551.9 299.6 L552.5 299.4 L553.1 299.4 L553.8 299.5 L554.4 299.3 L555 299.7 L555.6 299.8 L556.2 299.5 L556.9 299.7 L557.5 299.6 L558.1 299.7 L558.8 299.6 L559.4 299.2 L560 299.5 L560.6 299.3 L561.2 299.3 L561.9 299 L562.5 299 L563.1 299 L563.8 299 L564.4 298.9 L565 298.8 L565.6 298.3 L566.2 298.3 L566.9 298.4 L567.5 298.5 L568.1 298.1 L568.8 298.4 L569.4 298.3 L570 298.1 L570.6 297.5 L571.2 297.5 L571.9 297 L572.5 296.9 L573.1 296.6 L573.8 296.7 L574.4 296.8 L575 296.7 L575.6 296.7 L576.2 296.6 L576.9 296.9 L577.5 296.8 L578.1 297 L578.8 296.9 L579.4 296.6 L580 296.1 L580.6 296.2 L581.2 295.3 L581.9 295.2 L582.5 295 L583.1 294.6 L583.8 294.5 L584.4 294.1 L585 294.4 L585.6 293.9 L586.2 293.8 L586.9 293.6 L587.5 294.2 L588.1 293.9 L588.8 294.4 L589.4 293.9 L590 293.3 L590.6 293 L591.2 292.8 L591.9 292.2 L592.5 291.4 L593.1 291 L593.7 291.5 L594.4 291.6 L595 291.6 L595.6 291.7 L596.2 292.2 L596.9 292.9 L597.5 293.4 L598.1 294.2 L598.8 294.4 L599.4 294.5 L600 294 L600.6 293.6 L601.2 293.8 L601.9 292.8 L602.5 292.7 L603.1 292.8 L603.7 293 L604.4 293.3 L605 293.2 L605.6 293.8 L606.2 294.2 L606.9 294.1 L607.5 294.4 L608.1 294.3 L608.8 294.1 L609.4 294.1 L610 294.6 L610.6 294.1 L611.2 294.5 L611.9 294.4 L612.5 294.1 L613.1 294.5 L613.8 294.5 L614.4 295.3 L615 295.3 L615.6 295.5 L616.2 295.9 L616.9 295.8 L617.5 296.3 L618.1 295.9 L618.8 295.8 L619.4 295.9 L620 295.7 L620.6 296.1 L621.2 295.9 L621.9 295.8 L622.5 296 L623.1 296 L623.8 295.8 L624.4 295 L625 295.2 L625.6 294.8 L626.2 294.8 L626.9 295.1 L627.5 295.1 L628.1 294.8 L628.8 294.9 L629.4 294.9 L630 295.2 L630.6 295.9 L631.2 295.7 L631.9 296.3 L632.5 296.5 L633.1 296.5 L633.8 296.7 L634.4 296.7 L635 296.8 L635.6 296.4 L636.2 296.9 L636.9 296.6 L637.5 296.8 L638.1 296.7 L638.8 296.7 L639.4 296.9 L640 296.9 L640.6 296.7 L641.2 296.5 L641.9 296.6 L642.5 296.3 L643.1 295.8 L643.8 295.8 L644.4 295.7 L645 295.6 L645.6 295.7 L646.2 295.5 L646.9 295 L647.5 294.4 L648.1 294.8 L648.8 294.3 L649.4 294.2 L650 294.1 L650.6 293.8 L651.2 293.5 L651.9 293.6 L652.5 293.1 L653.1 293.2 L653.8 293.4 L654.4 294 L655 293.7 L655.6 294 L656.2 294.6 L656.9 294.2 L657.5 294.8 L658.1 296.2 L658.8 297.4 L659.4 298.5 L660 298.3 L660.6 298 L661.3 298.1 L661.9 298.1 L662.5 297.4 L663.1 297.4 L663.8 297.2 L664.4 297.2 L665 297 L665.6 296.8 L666.2 296.6 L666.9 296.8 L667.5 296.9 L668.1 296.3 L668.8 296.3 L669.4 296.6 L670 296.2 L670.6 296.1 L671.2 295.7 L671.9 295 L672.5 295.2 L673.1 295.1 L673.8 294.4 L674.4 294.7 L675 294.5 L675.6 293.9 L676.2 294.5 L676.9 294 L677.5 294.3 L678.1 294.5 L678.8 294.2 L679.4 293.8 L680 294 L680.6 293.9 L681.3 294.4 L681.9 293.9 L682.5 294.3 L683.2 294.2 L683.8 294.1 L684.4 294.4 L685.1 294.1 L685.7 294.2 L686.3 294.4 L687 294.2 L687.6 294.6 L688.2 294.2 L688.9 294.5 L689.5 294.6 L690.1 294.6 L690.7 294 L691.4 294.2 L692 294 L692.6 294.1 L693.2 293.7 L693.9 293.1 L694.5 293 L695.1 292.1 L695.8 291.3 L696.4 291.2 L697 291.2 L697.7 290.6 L698.3 290.9 L698.9 290.6 L699.6 290.8 L700.2 290.3 L700.8 290.3 L701.5 290.4 L702.1 290.1 L702.8 290.3 L703.4 290.3 L704 291 L704.7 292.1 L705.3 292.3 L705.9 292 L706.6 291.7 L707.2 291.8 L707.8 291.8 L708.4 292.1 L709.1 291.6 L709.7 292 L710.3 291.8 L710.9 291.8 L711.6 291.3 L712.2 291.6 L712.8 291.1 L713.5 291 L714.1 291.2 L714.7 291 L715.4 290.5 L716 290.8 L716.7 290.2 L717.3 289.9 L717.9 290 L718.6 289.1 L719.2 289.3 L719.8 289.1 L720.5 288.1 L721.1 287.7 L721.7 288 L722.4 287.4 L723 286.8 L723.6 286 L724.2 285.4 L724.9 285.7 L725.5 284.9 L726.1 284.2 L726.7 284.7 L727.4 284.1 L728 284.7 L728.7 284.6 L729.3 284.9 L729.9 283.9 L730.6 283.2 L731.2 282.7 L731.9 281.7 L732.5 281.1 L733.1 280 L733.8 278.8 L734.4 278.6 L735 277.3 L735.6 275 L736.2 272.6 L736.9 269.6 L737.5 267.2 L738.1 268.5 L738.8 268.9 L739.4 269.7 L740 270.7 L740.6 271.5 L741.3 272.6 L741.9 273.1 L742.5 271.2 L743.2 269 L743.8 267.8 L744.4 261.9 L745.1 258.2 L745.9 255.5 L746.6 253 L747.2 249.1 L747.9 247.7 L748.5 243.9 L749.2 249.2 L750 254.5 L750.9 252.8 L751.8 250.1 L752.5 246.1 L753.3 244 L754 241 L754.7 242.8 L755.5 243.4 L756.2 244.2 L757.4 247.1 L758.2 242.6 L759.1 238.3 L759.7 235.7 L760.3 232.4 L760.9 230 L761.5 227.5 L762.1 225.8 L762.9 228.1 L763.6 230.9 L764.5 235 L765.3 239.5 L765.9 233.1 L766.5 225 L767.4 220.5 L768.3 217.7 L768.9 221.5 L769.5 226.5 L770.2 238.5 L770.9 251.5 L771.5 248.2 L772.1 245.7 L772.7 243.4 L773.5 246.3 L774.2 250.1 L774.8 248.6 L775.5 246.3 L776.1 245.7 L776.9 248.7 L777.6 250.1 L778.2 252.8 L778.9 256.7 L779.5 258.9 L780.1 257.7 L780.8 256.2 L781.4 254.4 L782 253 L782.7 254.8 L783.5 254.4 L784.2 256 L784.9 257.5 L785.5 258.2 L786.1 260.1 L786.8 261.1 L787.4 258 L788 253.5 L788.7 250.1 L789.3 247.1 L790 243.2 L790.8 240.7 L791.5 238.3 L792.1 235.9 L792.7 235.1 L793.3 234.9 L793.9 232.1 L794.5 230.9 L795.2 230 L796 229.9 L796.7 229.5 L797.3 226 L798 224.1 L798.6 220.6 L799.4 225.6 L800.1 229.5 L801 228.3 L801.9 228.7 L802.6 234 L803.3 240.5 L804 238.3 L804.8 235.3 L805.5 232.4 L806.3 227.8 L807 223.6 L807.6 221.1 L808.2 220.1 L808.8 215.2 L809.4 213 L810 211.8 L810.9 214.9 L811.8 216.5 L812.5 211.8 L813.2 207.5 L813.9 203.8 L814.7 202.9 L815.4 200.4 L816 203.6 L816.6 204 L817.2 205.7 L818 215.6 L818.9 212.5 L819.8 210.2 L820.4 210 L821 210.8 L821.6 212.9 L822.5 220.9 L823.2 224 L824 225.1 L824.7 227.2 L825.5 225.6 L826.2 220.8 L827 219.2 L827.9 220.8 L828.8 223.6 L829.4 224.6 L830 227.6 L830.6 229.9 L831.5 228.4 L832.4 229 L833 232.7 L833.7 237.3 L834.4 241.4 L835 246 L835.9 243.8 L836.8 243.3 L837.4 238.8 L838 237.2 L838.6 232.6 L839.3 232.6 L840 234 L840.6 234.4 L841.3 235.3 L842 239.4 L842.6 243.3 L843.5 238.9 L844.3 236.1 L845 238.9 L845.8 242.4 L846.5 241.2 L847.1 241.6 L847.8 241.9 L848.5 240.6 L849.2 238.3 L849.9 236.4 L850.6 232.5 L851.3 229.5 L852 228.1 L852.9 229.5 L853.8 230.8 L854.4 232.8 L855 235.1 L855.6 237 L856.5 237.2 L857.4 237.9 L858 238.8 L858.6 239.6 L859.2 239.7 L860.1 242.3 L861 243.3 L861.9 249.7 L862.8 256.7 L863.4 257.5 L864 259 L864.6 259.4 L865.2 258.5 L865.9 257.9 L866.6 257.7 L867.2 257.6 L867.9 257.8 L868.5 259.8 L869.2 260.8 L869.9 261.2 L870.6 263.7 L871.2 266.2 L871.9 269 L872.6 272.3 L873.3 271.7 L874 271.1 L874.6 271.2 L875.3 271 L875.9 271.3 L876.6 271.1 L877.2 271.1 L877.9 271.9 L878.6 271 L879.3 269 L880 268.4 L880.8 266.9 L881.6 266.3 L882.2 265.6 L882.9 265.3 L883.6 264.5 L884.2 264.7 L885 263.8 L885.7 262.8 L886.5 262.3 L887.1 263.8 L887.8 264.7 L888.4 265.8 L889.1 267.6 L889.8 268.5 L890.5 269.5 L891.2 269 L891.9 268 L892.5 267 L893.2 266.3 L894 267.8 L894.7 268.4 L895.4 269.7 L896.1 271.1 L896.8 271.6 L897.5 271.5 L898.1 271.1 L898.8 270.1 L899.5 270 L900.1 270.6 L900.8 270.2 L901.5 270 L902.1 270.7 L902.8 270.2 L903.4 270.5 L904.1 270.7 L904.7 271.1 L905.5 269.7 L906.3 267.9 L906.9 267.1 L907.6 266.2 L908.2 266.3 L909.1 270.8 L910 274.7 L910.7 275 L911.4 274.5 L912.1 275.3 L912.8 274.3 L913.4 274 L914.1 273.8 L914.7 273.5 L915.4 273.9 L916 274.1 L916.7 273.6 L917.4 273.5 L918.1 273.8 L918.8 274.6 L919.5 275.3 L920.1 275.1 L920.7 275.1 L921.4 274.7 L922 275.4 L922.6 275.7 L923.2 275.3 L923.9 275 L924.6 273.7 L925.3 273.7 L926 271.3 L926.8 268.9 L927.5 267.8 L928.3 267.8 L929 266.8 L929.6 266.5 L930.3 266.9 L931 266.5 L931.6 265.8 L932.3 265.3 L933 265.5 L933.7 265.8 L934.4 265.8 L935.1 264.5 L935.8 264 L936.4 264.5 L937.1 265.1 L937.8 266.1 L938.4 266.3 L939.1 268.4 L939.8 269.3 L940.5 270.7 L941.2 268.8 L941.9 265.8 L942.6 263.2 L943.3 262.3 L944 263.1 L944.6 262.3 L945.3 262.1 L945.9 261.2 L946.6 262.3 L947.2 260.6 L947.9 261.1 L948.6 260.5 L949.3 259.6 L950 258.9 L950.8 261.1 L951.6 262.1 L952.3 261.8 L953 261.3 L953.7 261.6 L954.4 261.4 L955.1 261.5 L955.8 262.1 L956.5 262.7 L957.2 263 L957.9 263.7 L958.5 263.9 L959.2 262.9 L959.9 262.9 L960.5 262.9 L961.2 263 L961.9 264.5 L962.5 264.7 L963.2 264.7 L963.9 266.2 L964.6 266.8 L965.3 267.6 L966 265.8 L966.7 263.7 L967.4 262.6 L968 262.9 L968.6 262.2 L969.3 261.3 L969.9 261.3 L970.5 261.6 L971.2 260.5 L971.9 261 L972.6 260.2 L973.3 261.4 L974 261 L974.7 262.1 L975.4 262.5 L976.1 261.8 L976.8 262.1 L977.6 262.4 L978.4 262.1 L979 262.9 L979.6 262.8 L980.2 263.3 L980.8 262.9 L981.4 263.3 L982 264.3 L982.6 266.7 L983.2 266.4 L983.9 266.2 L984.5 265.4 L985.1 265.5 L985.8 265.8 L986.5 266.2 L987.1 266.3 L987.8 267.2 L988.5 267.9 L989.2 267.3 L989.9 267 L990.5 266.9 L991.2 266.1 L991.9 265.8 L992.5 266.3 L993.1 265.9 L993.8 265.8 L994.4 265 L995 265.8 L995.6 266.3 L996.3 266.7 L996.9 267.2 L997.5 265.8 L998.2 263.3 L998.9 261.9 L999.5 259.9 L1000.2 259.3 L1000.8 258.3 L1001.5 257 L1002.1 255.8 L1002.8 255.7 L1003.6 254.2 L1004.5 254 L1005.1 254.1 L1005.8 254.8 L1006.4 255.5 L1007 255.4 L1007.9 254.7 L1008.7 253.2 L1009.4 251.2 L1010 250.6 L1010.6 247.7 L1011.3 246.4 L1011.9 247.2 L1012.5 246.5 L1013.2 248.1 L1013.8 248.1 L1014.5 247.7 L1015.2 247.6 L1015.8 246.8 L1016.5 245.7 L1017.2 244.7 L1017.8 244.5 L1018.5 243.5 L1019.1 242.4 L1019.7 241.4 L1020.5 242.5 L1021.4 244.7 L1022.2 246.9 L1023.1 249 L1023.7 248.9 L1024.3 246.8 L1025 247.3 L1025.6 245.6 L1026.2 243.6 L1026.8 241.2 L1027.5 238.3 L1028.1 237.2 L1028.7 235.4 L1029.3 234.1 L1030 233.3 L1030.8 234.2 L1031.5 233.8 L1032.3 226.3 L1033.2 216.9 L1033.8 215.3 L1034.5 211.8 L1035.1 208.4 L1035.7 206 L1036.6 212.5 L1037.4 221.1 L1038.2 217 L1039.1 211.9 L1039.9 210.3 L1040.8 208.5 L1041.5 209.1 L1042.1 208.1 L1042.8 208.5 L1043.7 217.1 L1044.5 223.7 L1045.2 220.7 L1046 218.7 L1046.7 216.9 L1047.6 220.6 L1048.4 225.4 L1049.2 223.1 L1050 220.3 L1050.8 223.4 L1051.7 224.5 L1052.6 216.9 L1053.4 211 L1054 211.6 L1054.7 212.2 L1055.3 210.9 L1055.9 211.9 L1056.8 209.9 L1057.6 210.2 L1058.2 212.1 L1058.9 214.6 L1059.5 215.5 L1060.2 218 L1060.8 219.2 L1061.5 219.9 L1062.2 221.7 L1063.1 221.5 L1063.9 221.7 L1064.8 226.3 L1065.7 230.7 L1066.6 227.6 L1067.5 222.6 L1068.2 220.2 L1069 218.2 L1069.7 216.9 L1070.5 218.5 L1071.2 220.7 L1072 220.8 L1072.6 227.7 L1073.2 236 L1074 232.9 L1074.8 231 L1075.6 229.8 L1076.2 230.2 L1076.8 230.6 L1077.4 230.7 L1078.3 224.4 L1079.2 225.9 L1080 228.9 L1080.9 231.8 L1081.8 236 L1082.5 234.4 L1083.2 232.8 L1083.8 231.1 L1084.5 228.9 L1085.2 227.9 L1085.8 224.7 L1086.5 224.1 L1087.2 222.6 L1088.1 226.5 L1089 228.9 L1089.9 229.1 L1090.8 227.1 L1091.7 224 L1092.6 221.7 L1093.3 221.7 L1094 220.3 L1094.7 219 L1095.6 221.9 L1096.5 222.6 L1097.2 213.8 L1097.9 206.5 L1098.7 203.5 L1099.4 199.4 L1100.1 197.5 L1100.8 193.3 L1101.5 190.4 L1102.4 186.8 L1103.2 183.1 L1103.9 181 L1104.7 179.7 L1105.3 175.3 L1106 173.4 L1106.9 182.4 L1107.8 173.4 L1108.7 179.1 L1109.6 187.7 L1110.2 186.3 L1110.8 187.5 L1111.4 186.8 L1112.6 177.9 L1113.3 182.4 L1114 189.5 L1114.9 183.7 L1115.8 176.1 L1116.7 177.8 L1117.6 177.9 L1118.2 180.8 L1118.8 182.5 L1119.4 183.3 L1120.3 188.9 L1121.2 193.1 L1121.9 194 L1122.6 193.7 L1123.2 192.1 L1123.9 191.3 L1124.6 193.7 L1125.2 191.8 L1125.8 192.8 L1126.5 194.9 L1127.1 196.8 L1127.8 200.6 L1128.4 204.7 L1129.2 207.5 L1130.1 211 L1130.8 208.8 L1131.6 207.3 L1132.3 204.7 L1132.9 206.3 L1133.6 205.4 L1134.2 207.5 L1135 211 L1135.8 215.2 L1136.6 218.9 L1137.2 215.7 L1137.9 212.1 L1138.5 210.3 L1139.1 207.7 L1139.8 204.3 L1140.4 201.8 L1141.1 201.6 L1141.8 200.4 L1142.6 201.1 L1143.3 199 L1143.9 196.6 L1144.6 190 L1145.2 187.6 L1146.1 187.5 L1147 185.7 L1148 181.9 L1148.6 183.9 L1149.3 183.7 L1149.9 185.7 L1150.6 187.8 L1151.2 192.3 L1152 188 L1152.7 183.8 L1153.3 184.6 L1154 187.1 L1154.6 187.6 L1155.3 192.7 L1156.1 195.2 L1156.9 192.6 L1157.6 190.1 L1158.4 188.6 L1159 187.6 L1159.7 187.3 L1160.3 185.7 L1160.9 182.6 L1161.6 177.8 L1162.2 173.4 L1163 170.3 L1163.7 168.7 L1164.3 168.5 L1165 169.6 L1165.6 173.7 L1166.3 175.3 L1166.9 178.1 L1167.5 172.2 L1168.2 169.3 L1168.8 164.3 L1169.4 161.1 L1170.1 167.9 L1170.7 173.4 L1171.3 171.2 L1172 171.3 L1172.6 171.5 L1173.2 171 L1173.9 173.4 L1174.5 174.4 L1175.2 173.3 L1175.9 168.9 L1176.6 165.4 L1177.3 163 L1178.1 165.6 L1178.9 164.9 L1179.5 166.5 L1180.2 170.7 L1180.8 174.4 L1181.5 171.3 L1182.1 164 L1182.8 162.6 L1183.4 157.3 L1184.2 160.1 L1184.9 163.9 L1185.9 178.1 L1186.5 175.5 L1187.2 175.3 L1187.8 175.3 L1188.4 173.9 L1189.1 172.3 L1189.7 171.5 L1190.3 174.4 L1191 175.6 L1191.6 180 L1192.2 181.6 L1192.8 186.7 L1193.4 187.6 L1194 191.5 L1194.7 195.7 L1195.3 199.9 L1195.9 196.9 L1196.6 195.7 L1197.2 194.6 L1197.9 199.6 L1198.6 201.8 L1199.2 200.2 L1199.9 197.4 L1200.5 195.2 L1201.1 195.7 L1201.7 198.7 L1202.3 201.7 L1202.9 202.8 L1203.6 201.7 L1204.3 201.2 L1205.1 201.2 L1205.8 199 L1206.4 197.2 L1207.1 195 L1207.7 192.3 L1208.6 190.4 L1209.5 191.4 L1210.1 192.7 L1210.8 197.9 L1211.4 199.9 L1212 200.3 L1212.7 202.3 L1213.3 201.8 L1214 215.9 L1214.8 228.3 L1214.8 304.0 L16 304.0 Z" fill="url(#ag)"/>
  <path d="M16 303 L16.6 303 L17.2 303 L17.8 303 L18.4 303 L19 303 L19.6 303 L20.2 303 L20.8 303 L21.4 303 L22 303 L22.6 303 L23.2 303 L23.8 303 L24.4 303 L25 303 L25.6 303 L26.2 303 L26.8 303 L27.4 303 L28 303 L28.6 303 L29.2 303 L29.8 303 L30.4 303 L31 303 L31.6 303 L32.2 303 L32.8 303 L33.4 303 L34 303 L34.6 303 L35.2 303 L35.8 303 L36.4 303 L37 303 L37.6 303 L38.2 303 L38.8 303 L39.4 303 L40 303 L40.6 303 L41.2 303 L41.8 303 L42.4 303 L43 303 L43.6 303 L44.2 303 L44.8 303 L45.4 303 L46 303 L46.6 303 L47.2 303 L47.8 303 L48.4 303 L49 303 L49.6 303 L50.2 303 L50.8 303 L51.4 303 L52 303 L52.6 303 L53.2 303 L53.8 303 L54.4 303 L55 303 L55.6 303 L56.2 303 L56.8 303 L57.4 303 L58 303 L58.6 303 L59.2 303 L59.8 303 L60.4 303 L61 303 L61.6 303 L62.2 303 L62.8 303 L63.4 303 L64 303 L64.6 303 L65.2 303 L65.8 303 L66.4 303 L67 303 L67.6 303 L68.2 303 L68.8 303 L69.4 303 L70 303 L70.6 303 L71.2 303 L71.8 303 L72.4 303 L73 303 L73.6 303 L74.2 303 L74.8 303 L75.4 303 L76 303 L76.6 303 L77.2 303 L77.8 303 L78.4 303 L79 303 L79.6 303 L80.2 303 L80.8 303 L81.4 303 L82 303 L82.6 303 L83.2 303 L83.8 303 L84.4 303 L85 303 L85.6 303 L86.2 303 L86.8 303 L87.4 303 L88 303 L88.6 303 L89.2 303 L89.8 303 L90.4 303 L91 303 L91.6 303 L92.2 303 L92.8 303 L93.4 303 L94 303 L94.6 303 L95.2 303 L95.8 303 L96.4 303 L97 303 L97.6 303 L98.2 303 L98.8 303 L99.4 303 L100 303 L100.6 303 L101.2 303 L101.8 303 L102.4 303 L103 303 L103.6 303 L104.2 303 L104.8 303 L105.4 303 L106 303 L106.6 303 L107.2 303 L107.8 303 L108.4 303 L109 303 L109.6 303 L110.2 303 L110.8 303 L111.4 303 L112 303 L112.7 303 L113.3 303 L113.9 303 L114.5 303 L115.1 303 L115.7 303 L116.3 303 L116.9 303 L117.5 303 L118.1 303 L118.7 303 L119.3 303 L119.9 303 L120.5 303 L121.1 303 L121.7 303 L122.3 303 L122.9 303 L123.5 303 L124.1 303 L124.7 303 L125.3 303 L125.9 303 L126.5 303 L127.1 303 L127.7 303 L128.3 303 L128.9 303 L129.5 303 L130.1 303 L130.7 303 L131.3 303 L131.9 303 L132.5 303 L133.1 303 L133.7 303 L134.3 303 L134.9 303 L135.5 303 L136.1 303 L136.7 303 L137.3 303 L138 303 L138.6 303 L139.2 303 L139.8 303 L140.4 303 L141 303 L141.6 303 L142.2 303 L142.8 303 L143.4 303 L144 303 L144.6 303 L145.2 303 L145.8 303 L146.4 303 L147 303 L147.6 303 L148.2 303 L148.8 303 L149.4 303 L150 302.9 L150.6 302.9 L151.2 302.9 L151.8 302.9 L152.4 302.9 L153 302.9 L153.6 302.9 L154.2 302.9 L154.8 302.9 L155.4 302.9 L156 302.9 L156.6 302.9 L157.2 302.9 L157.8 302.9 L158.4 302.9 L159 302.9 L159.6 302.9 L160.2 302.9 L160.8 302.9 L161.4 302.9 L162 302.9 L162.7 302.9 L163.3 302.9 L163.9 302.9 L164.5 302.9 L165.1 302.9 L165.7 302.9 L166.3 302.9 L166.9 302.9 L167.5 302.9 L168.1 302.9 L168.7 302.9 L169.3 302.9 L169.9 302.9 L170.5 302.9 L171.1 302.9 L171.7 302.9 L172.3 302.9 L172.9 302.9 L173.5 302.9 L174.1 302.9 L174.7 302.9 L175.3 302.9 L175.9 302.9 L176.5 302.9 L177.1 302.9 L177.7 302.9 L178.3 302.9 L178.9 302.9 L179.5 302.9 L180.1 302.9 L180.7 302.9 L181.3 302.9 L181.9 302.9 L182.5 302.9 L183.1 302.9 L183.7 302.9 L184.3 302.9 L184.9 302.9 L185.5 302.9 L186.1 302.9 L186.7 302.9 L187.3 302.9 L188 302.9 L188.6 302.9 L189.2 302.9 L189.8 302.9 L190.4 302.9 L191 302.9 L191.6 302.9 L192.2 302.9 L192.8 302.9 L193.4 302.9 L194 302.9 L194.6 302.9 L195.2 302.9 L195.8 302.9 L196.4 302.9 L197 302.9 L197.6 302.9 L198.2 302.9 L198.8 302.9 L199.4 302.9 L200 302.9 L200.6 302.9 L201.2 302.9 L201.8 302.9 L202.4 302.9 L203 302.9 L203.6 302.9 L204.2 302.9 L204.8 302.9 L205.4 302.9 L206 302.9 L206.6 302.9 L207.2 302.9 L207.8 302.9 L208.4 302.9 L209 302.9 L209.6 302.9 L210.2 302.9 L210.8 302.9 L211.4 302.9 L212 302.9 L212.7 302.9 L213.3 302.9 L213.9 302.9 L214.5 302.9 L215.1 302.9 L215.7 302.9 L216.3 302.9 L216.9 302.9 L217.5 302.9 L218.1 302.9 L218.7 302.9 L219.3 302.9 L219.9 302.9 L220.5 302.9 L221.1 302.9 L221.7 302.9 L222.3 302.9 L222.9 302.9 L223.5 302.9 L224.1 302.9 L224.7 302.9 L225.3 302.9 L225.9 302.9 L226.5 302.9 L227.1 302.9 L227.7 302.9 L228.3 302.9 L228.9 302.9 L229.5 302.9 L230.1 302.9 L230.7 302.9 L231.3 302.9 L231.9 302.9 L232.5 302.9 L233.1 302.9 L233.7 302.9 L234.3 302.9 L234.9 302.9 L235.5 302.9 L236.1 302.9 L236.7 302.9 L237.3 302.9 L238 302.9 L238.6 302.9 L239.2 302.9 L239.8 302.9 L240.4 302.9 L241 302.9 L241.6 302.9 L242.2 302.9 L242.8 302.9 L243.4 302.9 L244 302.9 L244.6 302.9 L245.2 302.9 L245.8 302.9 L246.4 302.9 L247 302.9 L247.6 302.9 L248.2 302.9 L248.8 302.9 L249.4 302.9 L250 302.9 L250.6 302.9 L251.2 302.9 L251.8 302.9 L252.4 302.9 L253 302.9 L253.6 302.9 L254.2 302.9 L254.8 302.9 L255.4 302.9 L256 302.9 L256.6 302.9 L257.2 302.9 L257.8 302.9 L258.4 302.9 L259 302.9 L259.6 302.9 L260.2 302.9 L260.8 302.9 L261.4 302.9 L262 302.9 L262.7 302.9 L263.3 302.9 L263.9 302.9 L264.5 302.9 L265.1 302.9 L265.7 302.9 L266.3 302.9 L266.9 302.9 L267.5 302.9 L268.1 302.9 L268.7 302.9 L269.3 302.9 L269.9 302.9 L270.5 302.9 L271.1 302.9 L271.7 302.9 L272.3 302.9 L272.9 302.9 L273.5 302.9 L274.1 302.9 L274.7 302.9 L275.3 302.9 L275.9 302.9 L276.5 302.9 L277.1 302.9 L277.7 302.9 L278.3 302.9 L278.9 302.9 L279.5 302.9 L280.1 302.9 L280.7 302.9 L281.3 302.9 L281.9 302.9 L282.5 302.9 L283.1 302.9 L283.7 302.9 L284.3 302.9 L284.9 302.9 L285.5 302.9 L286.1 302.9 L286.7 302.9 L287.3 302.9 L288 302.9 L288.6 302.9 L289.2 302.9 L289.8 302.9 L290.4 302.9 L291 302.9 L291.6 302.9 L292.2 302.9 L292.8 302.9 L293.4 302.9 L294 302.9 L294.6 302.9 L295.2 302.9 L295.8 302.9 L296.4 302.9 L297 302.9 L297.6 302.9 L298.2 302.9 L298.8 302.9 L299.4 302.9 L300 302.9 L300.6 302.9 L301.2 302.9 L301.8 302.9 L302.4 302.9 L303 302.9 L303.6 302.9 L304.2 302.9 L304.8 302.9 L305.4 302.9 L306 302.9 L306.6 302.9 L307.2 302.9 L307.8 302.9 L308.4 302.9 L309.1 302.9 L309.7 302.9 L310.3 302.9 L310.9 302.9 L311.5 302.9 L312.1 302.9 L312.7 302.9 L313.3 302.9 L313.9 302.9 L314.5 302.9 L315.1 302.9 L315.7 302.9 L316.3 302.9 L316.9 302.9 L317.5 302.9 L318.1 302.9 L318.7 302.9 L319.3 302.9 L319.9 302.9 L320.5 302.9 L321.1 302.9 L321.7 302.9 L322.3 302.9 L322.9 302.9 L323.5 302.9 L324.1 302.9 L324.7 302.9 L325.3 302.9 L325.9 302.9 L326.6 302.9 L327.2 302.9 L327.8 302.9 L328.4 302.9 L329 302.9 L329.6 302.9 L330.2 302.9 L330.8 302.9 L331.4 302.9 L332 302.9 L332.6 302.9 L333.2 302.9 L333.8 302.9 L334.4 302.9 L335 302.9 L335.6 302.8 L336.2 302.8 L336.8 302.8 L337.4 302.8 L338 302.8 L338.6 302.8 L339.2 302.8 L339.8 302.8 L340.4 302.8 L341 302.8 L341.6 302.8 L342.2 302.8 L342.8 302.8 L343.4 302.8 L344.1 302.8 L344.7 302.8 L345.3 302.8 L345.9 302.8 L346.5 302.8 L347.1 302.8 L347.7 302.8 L348.3 302.8 L348.9 302.8 L349.5 302.8 L350.1 302.8 L350.7 302.8 L351.3 302.8 L351.9 302.8 L352.5 302.8 L353.1 302.8 L353.7 302.8 L354.3 302.8 L354.9 302.8 L355.5 302.8 L356.1 302.8 L356.7 302.8 L357.3 302.8 L357.9 302.8 L358.5 302.8 L359.1 302.8 L359.7 302.8 L360.3 302.8 L360.9 302.8 L361.6 302.8 L362.2 302.8 L362.8 302.8 L363.4 302.8 L364 302.8 L364.6 302.8 L365.2 302.8 L365.8 302.8 L366.4 302.8 L367 302.8 L367.6 302.8 L368.2 302.8 L368.8 302.8 L369.4 302.8 L370 302.8 L370.6 302.8 L371.2 302.8 L371.8 302.8 L372.4 302.8 L373 302.8 L373.6 302.8 L374.2 302.8 L374.8 302.7 L375.4 302.7 L376 302.7 L376.6 302.7 L377.2 302.7 L377.8 302.7 L378.4 302.7 L379 302.7 L379.6 302.7 L380.2 302.7 L380.8 302.7 L381.4 302.7 L382 302.7 L382.6 302.7 L383.2 302.7 L383.8 302.6 L384.4 302.6 L385 302.6 L385.6 302.6 L386.2 302.6 L386.8 302.6 L387.4 302.6 L388 302.6 L388.7 302.6 L389.4 302.5 L390.1 302.4 L390.8 302.4 L391.4 302.2 L392.1 302.1 L392.7 302 L393.3 301.9 L394 301.8 L394.6 301.4 L395.2 301.4 L395.8 301.3 L396.4 300.6 L397 300.7 L397.7 300.8 L398.3 300.4 L398.9 300.4 L399.5 299.7 L400.1 299.8 L400.7 299.7 L401.4 299.5 L402 299.6 L402.6 299.5 L403.3 299.1 L403.9 299.3 L404.5 299.2 L405.2 299.3 L405.8 299.7 L406.4 299.7 L407 299.4 L407.7 299.8 L408.3 299.7 L409 299.8 L409.6 300.5 L410.3 300.5 L411 301.1 L411.7 300.5 L412.4 300.8 L413 300.1 L413.7 300 L414.4 299.7 L415.1 300 L415.8 299.9 L416.5 299.5 L417.2 299 L417.8 299.1 L418.5 298.5 L419.1 298.3 L419.8 297.8 L420.4 297.5 L421.1 297.8 L421.7 297.5 L422.4 297.5 L423 297.1 L423.9 297.7 L424.7 297.7 L425.5 298.5 L426.3 299.5 L427 299.2 L427.6 298.9 L428.3 298.7 L429 298.7 L429.6 298.3 L430.3 298.3 L430.9 298.3 L431.6 297.8 L432.2 298.1 L432.9 297.8 L433.5 297.7 L434.1 297.7 L434.7 298 L435.4 297.8 L436 297.7 L436.6 297.8 L437.2 297.8 L437.9 297.7 L438.6 297 L439.4 297.4 L440.1 296.8 L440.7 296.3 L441.4 296.7 L442 296.6 L442.6 296.2 L443.2 295.3 L443.8 295.4 L444.4 294.5 L445 294.2 L445.6 293.6 L446.3 292.4 L447 291.6 L447.7 291.1 L448.5 288.3 L449.4 286.1 L450 284.6 L450.6 282.3 L451.4 283.7 L452.1 285.6 L452.9 284 L453.6 281.8 L454.5 278.7 L455.3 274.7 L456.5 275.9 L457.4 278.5 L458.2 283.9 L459.1 282.7 L460.3 283.9 L461 285.8 L461.6 286.9 L462.8 292.4 L463.5 290.8 L464.1 289.4 L465 287.8 L465.8 286.5 L466.6 287.4 L467.5 288.2 L468.4 288.2 L469.2 287.7 L470 288.4 L470.8 289.8 L471.6 291.1 L472.5 291.9 L473.2 292.2 L473.9 292.3 L474.6 292.1 L475.3 292.4 L476 293.8 L476.7 294.1 L477.5 294.2 L478.4 294.9 L479.1 293.8 L479.8 293 L480.5 291.9 L481.2 291.3 L481.9 289.8 L482.6 289 L483.2 289 L483.9 288.4 L484.6 287.9 L485.2 287.7 L485.9 288 L486.6 288.3 L487.3 289 L487.9 289.1 L488.6 289.6 L489.2 290.4 L489.8 290.7 L490.4 291.5 L491.1 291.3 L491.7 291.6 L492.3 292.4 L493.1 292.5 L494 291.8 L494.6 292.3 L495.2 292.6 L495.9 293 L496.5 293.6 L497.2 293.9 L497.9 294.2 L498.5 294.1 L499.2 294.3 L499.9 294.5 L500.5 294.1 L501.1 294.6 L501.8 293.9 L502.4 294.1 L503.1 293.8 L503.8 293.8 L504.4 293 L505.1 293.2 L505.8 292.8 L506.4 293.5 L507.1 293.5 L507.7 294 L508.3 294.1 L509 294.4 L509.6 295.1 L510.3 295.5 L511 296.2 L511.6 296.4 L512.2 295.9 L512.9 295.8 L513.5 296.1 L514.1 295.9 L514.8 295.8 L515.4 295.3 L516 295.2 L516.7 295.6 L517.4 296.1 L518 296.2 L518.7 296.4 L519.4 296.9 L520 296.6 L520.6 296.1 L521.3 296 L521.9 296.2 L522.5 295.6 L523.1 295.9 L523.8 295.7 L524.4 295.6 L525 295.5 L525.6 295.3 L526.2 295.6 L526.9 295.5 L527.5 295.8 L528.1 295.9 L528.8 295.6 L529.4 295.9 L530 295.9 L530.6 295.9 L531.2 295.9 L531.9 296 L532.5 295.8 L533.1 296 L533.8 295.9 L534.4 296.2 L535 296.8 L535.6 297.4 L536.2 297.8 L536.9 297.9 L537.5 298.5 L538.1 298.9 L538.8 298.9 L539.4 299 L540 298.8 L540.6 299.3 L541.2 299.3 L541.9 299.7 L542.5 299.8 L543.1 299.6 L543.8 299.6 L544.4 299.3 L545 299.3 L545.6 298.8 L546.2 298.8 L546.9 298.9 L547.5 299 L548.1 299.1 L548.8 298.9 L549.4 299.3 L550 299.4 L550.6 299.3 L551.2 299.6 L551.9 299.6 L552.5 299.4 L553.1 299.4 L553.8 299.5 L554.4 299.3 L555 299.7 L555.6 299.8 L556.2 299.5 L556.9 299.7 L557.5 299.6 L558.1 299.7 L558.8 299.6 L559.4 299.2 L560 299.5 L560.6 299.3 L561.2 299.3 L561.9 299 L562.5 299 L563.1 299 L563.8 299 L564.4 298.9 L565 298.8 L565.6 298.3 L566.2 298.3 L566.9 298.4 L567.5 298.5 L568.1 298.1 L568.8 298.4 L569.4 298.3 L570 298.1 L570.6 297.5 L571.2 297.5 L571.9 297 L572.5 296.9 L573.1 296.6 L573.8 296.7 L574.4 296.8 L575 296.7 L575.6 296.7 L576.2 296.6 L576.9 296.9 L577.5 296.8 L578.1 297 L578.8 296.9 L579.4 296.6 L580 296.1 L580.6 296.2 L581.2 295.3 L581.9 295.2 L582.5 295 L583.1 294.6 L583.8 294.5 L584.4 294.1 L585 294.4 L585.6 293.9 L586.2 293.8 L586.9 293.6 L587.5 294.2 L588.1 293.9 L588.8 294.4 L589.4 293.9 L590 293.3 L590.6 293 L591.2 292.8 L591.9 292.2 L592.5 291.4 L593.1 291 L593.7 291.5 L594.4 291.6 L595 291.6 L595.6 291.7 L596.2 292.2 L596.9 292.9 L597.5 293.4 L598.1 294.2 L598.8 294.4 L599.4 294.5 L600 294 L600.6 293.6 L601.2 293.8 L601.9 292.8 L602.5 292.7 L603.1 292.8 L603.7 293 L604.4 293.3 L605 293.2 L605.6 293.8 L606.2 294.2 L606.9 294.1 L607.5 294.4 L608.1 294.3 L608.8 294.1 L609.4 294.1 L610 294.6 L610.6 294.1 L611.2 294.5 L611.9 294.4 L612.5 294.1 L613.1 294.5 L613.8 294.5 L614.4 295.3 L615 295.3 L615.6 295.5 L616.2 295.9 L616.9 295.8 L617.5 296.3 L618.1 295.9 L618.8 295.8 L619.4 295.9 L620 295.7 L620.6 296.1 L621.2 295.9 L621.9 295.8 L622.5 296 L623.1 296 L623.8 295.8 L624.4 295 L625 295.2 L625.6 294.8 L626.2 294.8 L626.9 295.1 L627.5 295.1 L628.1 294.8 L628.8 294.9 L629.4 294.9 L630 295.2 L630.6 295.9 L631.2 295.7 L631.9 296.3 L632.5 296.5 L633.1 296.5 L633.8 296.7 L634.4 296.7 L635 296.8 L635.6 296.4 L636.2 296.9 L636.9 296.6 L637.5 296.8 L638.1 296.7 L638.8 296.7 L639.4 296.9 L640 296.9 L640.6 296.7 L641.2 296.5 L641.9 296.6 L642.5 296.3 L643.1 295.8 L643.8 295.8 L644.4 295.7 L645 295.6 L645.6 295.7 L646.2 295.5 L646.9 295 L647.5 294.4 L648.1 294.8 L648.8 294.3 L649.4 294.2 L650 294.1 L650.6 293.8 L651.2 293.5 L651.9 293.6 L652.5 293.1 L653.1 293.2 L653.8 293.4 L654.4 294 L655 293.7 L655.6 294 L656.2 294.6 L656.9 294.2 L657.5 294.8 L658.1 296.2 L658.8 297.4 L659.4 298.5 L660 298.3 L660.6 298 L661.3 298.1 L661.9 298.1 L662.5 297.4 L663.1 297.4 L663.8 297.2 L664.4 297.2 L665 297 L665.6 296.8 L666.2 296.6 L666.9 296.8 L667.5 296.9 L668.1 296.3 L668.8 296.3 L669.4 296.6 L670 296.2 L670.6 296.1 L671.2 295.7 L671.9 295 L672.5 295.2 L673.1 295.1 L673.8 294.4 L674.4 294.7 L675 294.5 L675.6 293.9 L676.2 294.5 L676.9 294 L677.5 294.3 L678.1 294.5 L678.8 294.2 L679.4 293.8 L680 294 L680.6 293.9 L681.3 294.4 L681.9 293.9 L682.5 294.3 L683.2 294.2 L683.8 294.1 L684.4 294.4 L685.1 294.1 L685.7 294.2 L686.3 294.4 L687 294.2 L687.6 294.6 L688.2 294.2 L688.9 294.5 L689.5 294.6 L690.1 294.6 L690.7 294 L691.4 294.2 L692 294 L692.6 294.1 L693.2 293.7 L693.9 293.1 L694.5 293 L695.1 292.1 L695.8 291.3 L696.4 291.2 L697 291.2 L697.7 290.6 L698.3 290.9 L698.9 290.6 L699.6 290.8 L700.2 290.3 L700.8 290.3 L701.5 290.4 L702.1 290.1 L702.8 290.3 L703.4 290.3 L704 291 L704.7 292.1 L705.3 292.3 L705.9 292 L706.6 291.7 L707.2 291.8 L707.8 291.8 L708.4 292.1 L709.1 291.6 L709.7 292 L710.3 291.8 L710.9 291.8 L711.6 291.3 L712.2 291.6 L712.8 291.1 L713.5 291 L714.1 291.2 L714.7 291 L715.4 290.5 L716 290.8 L716.7 290.2 L717.3 289.9 L717.9 290 L718.6 289.1 L719.2 289.3 L719.8 289.1 L720.5 288.1 L721.1 287.7 L721.7 288 L722.4 287.4 L723 286.8 L723.6 286 L724.2 285.4 L724.9 285.7 L725.5 284.9 L726.1 284.2 L726.7 284.7 L727.4 284.1 L728 284.7 L728.7 284.6 L729.3 284.9 L729.9 283.9 L730.6 283.2 L731.2 282.7 L731.9 281.7 L732.5 281.1 L733.1 280 L733.8 278.8 L734.4 278.6 L735 277.3 L735.6 275 L736.2 272.6 L736.9 269.6 L737.5 267.2 L738.1 268.5 L738.8 268.9 L739.4 269.7 L740 270.7 L740.6 271.5 L741.3 272.6 L741.9 273.1 L742.5 271.2 L743.2 269 L743.8 267.8 L744.4 261.9 L745.1 258.2 L745.9 255.5 L746.6 253 L747.2 249.1 L747.9 247.7 L748.5 243.9 L749.2 249.2 L750 254.5 L750.9 252.8 L751.8 250.1 L752.5 246.1 L753.3 244 L754 241 L754.7 242.8 L755.5 243.4 L756.2 244.2 L757.4 247.1 L758.2 242.6 L759.1 238.3 L759.7 235.7 L760.3 232.4 L760.9 230 L761.5 227.5 L762.1 225.8 L762.9 228.1 L763.6 230.9 L764.5 235 L765.3 239.5 L765.9 233.1 L766.5 225 L767.4 220.5 L768.3 217.7 L768.9 221.5 L769.5 226.5 L770.2 238.5 L770.9 251.5 L771.5 248.2 L772.1 245.7 L772.7 243.4 L773.5 246.3 L774.2 250.1 L774.8 248.6 L775.5 246.3 L776.1 245.7 L776.9 248.7 L777.6 250.1 L778.2 252.8 L778.9 256.7 L779.5 258.9 L780.1 257.7 L780.8 256.2 L781.4 254.4 L782 253 L782.7 254.8 L783.5 254.4 L784.2 256 L784.9 257.5 L785.5 258.2 L786.1 260.1 L786.8 261.1 L787.4 258 L788 253.5 L788.7 250.1 L789.3 247.1 L790 243.2 L790.8 240.7 L791.5 238.3 L792.1 235.9 L792.7 235.1 L793.3 234.9 L793.9 232.1 L794.5 230.9 L795.2 230 L796 229.9 L796.7 229.5 L797.3 226 L798 224.1 L798.6 220.6 L799.4 225.6 L800.1 229.5 L801 228.3 L801.9 228.7 L802.6 234 L803.3 240.5 L804 238.3 L804.8 235.3 L805.5 232.4 L806.3 227.8 L807 223.6 L807.6 221.1 L808.2 220.1 L808.8 215.2 L809.4 213 L810 211.8 L810.9 214.9 L811.8 216.5 L812.5 211.8 L813.2 207.5 L813.9 203.8 L814.7 202.9 L815.4 200.4 L816 203.6 L816.6 204 L817.2 205.7 L818 215.6 L818.9 212.5 L819.8 210.2 L820.4 210 L821 210.8 L821.6 212.9 L822.5 220.9 L823.2 224 L824 225.1 L824.7 227.2 L825.5 225.6 L826.2 220.8 L827 219.2 L827.9 220.8 L828.8 223.6 L829.4 224.6 L830 227.6 L830.6 229.9 L831.5 228.4 L832.4 229 L833 232.7 L833.7 237.3 L834.4 241.4 L835 246 L835.9 243.8 L836.8 243.3 L837.4 238.8 L838 237.2 L838.6 232.6 L839.3 232.6 L840 234 L840.6 234.4 L841.3 235.3 L842 239.4 L842.6 243.3 L843.5 238.9 L844.3 236.1 L845 238.9 L845.8 242.4 L846.5 241.2 L847.1 241.6 L847.8 241.9 L848.5 240.6 L849.2 238.3 L849.9 236.4 L850.6 232.5 L851.3 229.5 L852 228.1 L852.9 229.5 L853.8 230.8 L854.4 232.8 L855 235.1 L855.6 237 L856.5 237.2 L857.4 237.9 L858 238.8 L858.6 239.6 L859.2 239.7 L860.1 242.3 L861 243.3 L861.9 249.7 L862.8 256.7 L863.4 257.5 L864 259 L864.6 259.4 L865.2 258.5 L865.9 257.9 L866.6 257.7 L867.2 257.6 L867.9 257.8 L868.5 259.8 L869.2 260.8 L869.9 261.2 L870.6 263.7 L871.2 266.2 L871.9 269 L872.6 272.3 L873.3 271.7 L874 271.1 L874.6 271.2 L875.3 271 L875.9 271.3 L876.6 271.1 L877.2 271.1 L877.9 271.9 L878.6 271 L879.3 269 L880 268.4 L880.8 266.9 L881.6 266.3 L882.2 265.6 L882.9 265.3 L883.6 264.5 L884.2 264.7 L885 263.8 L885.7 262.8 L886.5 262.3 L887.1 263.8 L887.8 264.7 L888.4 265.8 L889.1 267.6 L889.8 268.5 L890.5 269.5 L891.2 269 L891.9 268 L892.5 267 L893.2 266.3 L894 267.8 L894.7 268.4 L895.4 269.7 L896.1 271.1 L896.8 271.6 L897.5 271.5 L898.1 271.1 L898.8 270.1 L899.5 270 L900.1 270.6 L900.8 270.2 L901.5 270 L902.1 270.7 L902.8 270.2 L903.4 270.5 L904.1 270.7 L904.7 271.1 L905.5 269.7 L906.3 267.9 L906.9 267.1 L907.6 266.2 L908.2 266.3 L909.1 270.8 L910 274.7 L910.7 275 L911.4 274.5 L912.1 275.3 L912.8 274.3 L913.4 274 L914.1 273.8 L914.7 273.5 L915.4 273.9 L916 274.1 L916.7 273.6 L917.4 273.5 L918.1 273.8 L918.8 274.6 L919.5 275.3 L920.1 275.1 L920.7 275.1 L921.4 274.7 L922 275.4 L922.6 275.7 L923.2 275.3 L923.9 275 L924.6 273.7 L925.3 273.7 L926 271.3 L926.8 268.9 L927.5 267.8 L928.3 267.8 L929 266.8 L929.6 266.5 L930.3 266.9 L931 266.5 L931.6 265.8 L932.3 265.3 L933 265.5 L933.7 265.8 L934.4 265.8 L935.1 264.5 L935.8 264 L936.4 264.5 L937.1 265.1 L937.8 266.1 L938.4 266.3 L939.1 268.4 L939.8 269.3 L940.5 270.7 L941.2 268.8 L941.9 265.8 L942.6 263.2 L943.3 262.3 L944 263.1 L944.6 262.3 L945.3 262.1 L945.9 261.2 L946.6 262.3 L947.2 260.6 L947.9 261.1 L948.6 260.5 L949.3 259.6 L950 258.9 L950.8 261.1 L951.6 262.1 L952.3 261.8 L953 261.3 L953.7 261.6 L954.4 261.4 L955.1 261.5 L955.8 262.1 L956.5 262.7 L957.2 263 L957.9 263.7 L958.5 263.9 L959.2 262.9 L959.9 262.9 L960.5 262.9 L961.2 263 L961.9 264.5 L962.5 264.7 L963.2 264.7 L963.9 266.2 L964.6 266.8 L965.3 267.6 L966 265.8 L966.7 263.7 L967.4 262.6 L968 262.9 L968.6 262.2 L969.3 261.3 L969.9 261.3 L970.5 261.6 L971.2 260.5 L971.9 261 L972.6 260.2 L973.3 261.4 L974 261 L974.7 262.1 L975.4 262.5 L976.1 261.8 L976.8 262.1 L977.6 262.4 L978.4 262.1 L979 262.9 L979.6 262.8 L980.2 263.3 L980.8 262.9 L981.4 263.3 L982 264.3 L982.6 266.7 L983.2 266.4 L983.9 266.2 L984.5 265.4 L985.1 265.5 L985.8 265.8 L986.5 266.2 L987.1 266.3 L987.8 267.2 L988.5 267.9 L989.2 267.3 L989.9 267 L990.5 266.9 L991.2 266.1 L991.9 265.8 L992.5 266.3 L993.1 265.9 L993.8 265.8 L994.4 265 L995 265.8 L995.6 266.3 L996.3 266.7 L996.9 267.2 L997.5 265.8 L998.2 263.3 L998.9 261.9 L999.5 259.9 L1000.2 259.3 L1000.8 258.3 L1001.5 257 L1002.1 255.8 L1002.8 255.7 L1003.6 254.2 L1004.5 254 L1005.1 254.1 L1005.8 254.8 L1006.4 255.5 L1007 255.4 L1007.9 254.7 L1008.7 253.2 L1009.4 251.2 L1010 250.6 L1010.6 247.7 L1011.3 246.4 L1011.9 247.2 L1012.5 246.5 L1013.2 248.1 L1013.8 248.1 L1014.5 247.7 L1015.2 247.6 L1015.8 246.8 L1016.5 245.7 L1017.2 244.7 L1017.8 244.5 L1018.5 243.5 L1019.1 242.4 L1019.7 241.4 L1020.5 242.5 L1021.4 244.7 L1022.2 246.9 L1023.1 249 L1023.7 248.9 L1024.3 246.8 L1025 247.3 L1025.6 245.6 L1026.2 243.6 L1026.8 241.2 L1027.5 238.3 L1028.1 237.2 L1028.7 235.4 L1029.3 234.1 L1030 233.3 L1030.8 234.2 L1031.5 233.8 L1032.3 226.3 L1033.2 216.9 L1033.8 215.3 L1034.5 211.8 L1035.1 208.4 L1035.7 206 L1036.6 212.5 L1037.4 221.1 L1038.2 217 L1039.1 211.9 L1039.9 210.3 L1040.8 208.5 L1041.5 209.1 L1042.1 208.1 L1042.8 208.5 L1043.7 217.1 L1044.5 223.7 L1045.2 220.7 L1046 218.7 L1046.7 216.9 L1047.6 220.6 L1048.4 225.4 L1049.2 223.1 L1050 220.3 L1050.8 223.4 L1051.7 224.5 L1052.6 216.9 L1053.4 211 L1054 211.6 L1054.7 212.2 L1055.3 210.9 L1055.9 211.9 L1056.8 209.9 L1057.6 210.2 L1058.2 212.1 L1058.9 214.6 L1059.5 215.5 L1060.2 218 L1060.8 219.2 L1061.5 219.9 L1062.2 221.7 L1063.1 221.5 L1063.9 221.7 L1064.8 226.3 L1065.7 230.7 L1066.6 227.6 L1067.5 222.6 L1068.2 220.2 L1069 218.2 L1069.7 216.9 L1070.5 218.5 L1071.2 220.7 L1072 220.8 L1072.6 227.7 L1073.2 236 L1074 232.9 L1074.8 231 L1075.6 229.8 L1076.2 230.2 L1076.8 230.6 L1077.4 230.7 L1078.3 224.4 L1079.2 225.9 L1080 228.9 L1080.9 231.8 L1081.8 236 L1082.5 234.4 L1083.2 232.8 L1083.8 231.1 L1084.5 228.9 L1085.2 227.9 L1085.8 224.7 L1086.5 224.1 L1087.2 222.6 L1088.1 226.5 L1089 228.9 L1089.9 229.1 L1090.8 227.1 L1091.7 224 L1092.6 221.7 L1093.3 221.7 L1094 220.3 L1094.7 219 L1095.6 221.9 L1096.5 222.6 L1097.2 213.8 L1097.9 206.5 L1098.7 203.5 L1099.4 199.4 L1100.1 197.5 L1100.8 193.3 L1101.5 190.4 L1102.4 186.8 L1103.2 183.1 L1103.9 181 L1104.7 179.7 L1105.3 175.3 L1106 173.4 L1106.9 182.4 L1107.8 173.4 L1108.7 179.1 L1109.6 187.7 L1110.2 186.3 L1110.8 187.5 L1111.4 186.8 L1112.6 177.9 L1113.3 182.4 L1114 189.5 L1114.9 183.7 L1115.8 176.1 L1116.7 177.8 L1117.6 177.9 L1118.2 180.8 L1118.8 182.5 L1119.4 183.3 L1120.3 188.9 L1121.2 193.1 L1121.9 194 L1122.6 193.7 L1123.2 192.1 L1123.9 191.3 L1124.6 193.7 L1125.2 191.8 L1125.8 192.8 L1126.5 194.9 L1127.1 196.8 L1127.8 200.6 L1128.4 204.7 L1129.2 207.5 L1130.1 211 L1130.8 208.8 L1131.6 207.3 L1132.3 204.7 L1132.9 206.3 L1133.6 205.4 L1134.2 207.5 L1135 211 L1135.8 215.2 L1136.6 218.9 L1137.2 215.7 L1137.9 212.1 L1138.5 210.3 L1139.1 207.7 L1139.8 204.3 L1140.4 201.8 L1141.1 201.6 L1141.8 200.4 L1142.6 201.1 L1143.3 199 L1143.9 196.6 L1144.6 190 L1145.2 187.6 L1146.1 187.5 L1147 185.7 L1148 181.9 L1148.6 183.9 L1149.3 183.7 L1149.9 185.7 L1150.6 187.8 L1151.2 192.3 L1152 188 L1152.7 183.8 L1153.3 184.6 L1154 187.1 L1154.6 187.6 L1155.3 192.7 L1156.1 195.2 L1156.9 192.6 L1157.6 190.1 L1158.4 188.6 L1159 187.6 L1159.7 187.3 L1160.3 185.7 L1160.9 182.6 L1161.6 177.8 L1162.2 173.4 L1163 170.3 L1163.7 168.7 L1164.3 168.5 L1165 169.6 L1165.6 173.7 L1166.3 175.3 L1166.9 178.1 L1167.5 172.2 L1168.2 169.3 L1168.8 164.3 L1169.4 161.1 L1170.1 167.9 L1170.7 173.4 L1171.3 171.2 L1172 171.3 L1172.6 171.5 L1173.2 171 L1173.9 173.4 L1174.5 174.4 L1175.2 173.3 L1175.9 168.9 L1176.6 165.4 L1177.3 163 L1178.1 165.6 L1178.9 164.9 L1179.5 166.5 L1180.2 170.7 L1180.8 174.4 L1181.5 171.3 L1182.1 164 L1182.8 162.6 L1183.4 157.3 L1184.2 160.1 L1184.9 163.9 L1185.9 178.1 L1186.5 175.5 L1187.2 175.3 L1187.8 175.3 L1188.4 173.9 L1189.1 172.3 L1189.7 171.5 L1190.3 174.4 L1191 175.6 L1191.6 180 L1192.2 181.6 L1192.8 186.7 L1193.4 187.6 L1194 191.5 L1194.7 195.7 L1195.3 199.9 L1195.9 196.9 L1196.6 195.7 L1197.2 194.6 L1197.9 199.6 L1198.6 201.8 L1199.2 200.2 L1199.9 197.4 L1200.5 195.2 L1201.1 195.7 L1201.7 198.7 L1202.3 201.7 L1202.9 202.8 L1203.6 201.7 L1204.3 201.2 L1205.1 201.2 L1205.8 199 L1206.4 197.2 L1207.1 195 L1207.7 192.3 L1208.6 190.4 L1209.5 191.4 L1210.1 192.7 L1210.8 197.9 L1211.4 199.9 L1212 200.3 L1212.7 202.3 L1213.3 201.8 L1214 215.9 L1214.8 228.3" fill="none" stroke="#47a14a" stroke-width="2.2" stroke-linejoin="round" stroke-linecap="round"/>
  <g font-family="Liberation Sans" font-size="12.5" fill="#505769"><text x="1230.5" y="101.7">$6T</text><text x="1230.5" y="169.2">$4T</text><text x="1230.5" y="236.7">$2T</text><text x="1230.5" y="303.2">$0</text></g><g font-family="Liberation Sans" font-size="12" fill="#505769"><text x="80.0" y="373.5" text-anchor="middle">2014</text><text x="173.8" y="373.5" text-anchor="middle">2015</text><text x="267.3" y="373.5" text-anchor="middle">2016</text><text x="361.1" y="373.5" text-anchor="middle">2017</text><text x="454.7" y="373.5" text-anchor="middle">2018</text><text x="548.3" y="373.5" text-anchor="middle">2019</text><text x="641.9" y="373.5" text-anchor="middle">2020</text><text x="735.5" y="373.5" text-anchor="middle">2021</text><text x="829.0" y="373.5" text-anchor="middle">2022</text><text x="922.8" y="373.5" text-anchor="middle">2023</text><text x="1016.6" y="373.5" text-anchor="middle">2024</text><text x="1110.4" y="373.5" text-anchor="middle">2025</text><text x="1205.0" y="373.5" text-anchor="middle">2026</text></g>
  <!-- watermark -->
  <g>
    <circle cx="1113.7" cy="275.1" r="9.8" fill="#f8f5d0"/>
    <circle cx="1113.7" cy="275.1" r="9.3" fill="none" stroke="#f4eca6" stroke-width="1.2" opacity="0.8"/>
    <path d="M1107 273 Q1107.5 270 1111 269.5 L1116 269.5 Q1120 270.5 1122.5 273.5 Q1121 279 1119.5 282 Q1117.5 285 1113 284.8 Q1108.5 284.5 1107.3 281 Z" fill="#aadd95"/>
    <circle cx="1112.8" cy="272.5" r="2.4" fill="#fff"/>
    <circle cx="1113.8" cy="272.3" r="1.2" fill="#3a3a3a"/>
    <text x="1133" y="279" font-family="Liberation Sans" font-weight="bold" font-size="14.5" fill="#787a7a">coingecko</text>
  </g>
  <!-- navigator -->
  <rect x="16" y="402" width="1199" height="40.5" fill="#d9ddef"/>
  <line x1="80.4" x2="80.4" y1="402.5" y2="442" stroke="#c5c9da" stroke-width="1"/><line x1="268" x2="268" y1="402.5" y2="442" stroke="#c5c9da" stroke-width="1"/><line x1="456" x2="456" y1="402.5" y2="442" stroke="#c5c9da" stroke-width="1"/><line x1="643.5" x2="643.5" y1="402.5" y2="442" stroke="#c5c9da" stroke-width="1"/><line x1="831" x2="831" y1="402.5" y2="442" stroke="#c5c9da" stroke-width="1"/><line x1="1019" x2="1019" y1="402.5" y2="442" stroke="#c5c9da" stroke-width="1"/><line x1="1206.5" x2="1206.5" y1="402.5" y2="442" stroke="#c5c9da" stroke-width="1"/>
  <path d="M17 442 L19.5 442 L22 442 L24.5 442 L27 442 L29.5 442 L32 442 L34.5 442 L37 442 L39.5 442 L42 442 L44.5 442 L47 442 L49.5 442 L52 442 L54.5 442 L57 442 L59.5 442 L62 442 L64.5 442 L67 442 L69.5 442 L72 442 L74.5 442 L77 442 L79.5 442 L82 442 L84.5 442 L87 442 L89.5 442 L92 442 L94.5 442 L97 442 L99.5 442 L102 442 L104.5 442 L107 442 L109.5 442 L112 442 L114.5 442 L117 442 L119.5 442 L122 442 L124.5 442 L127 442 L129.5 442 L132 442 L134.5 442 L137 442 L139.5 442 L142 442 L144.5 442 L147 442 L149.5 442 L152 442 L154.5 442 L157 442 L159.5 442 L162 442 L164.5 442 L167 442 L169.5 442 L172 442 L174.5 442 L177 442 L179.5 442 L182 442 L184.5 442 L187 442 L189.5 442 L192 442 L194.5 442 L197 442 L199.5 442 L202 442 L204.5 442 L207 442 L209.5 442 L212 442 L214.5 442 L217 442 L219.5 442 L222 442 L224.5 442 L227 442 L229.5 442 L232 442 L234.5 442 L237 442 L239.5 442 L242 442 L244.5 442 L247 442 L249.5 442 L252 442 L254.5 442 L257 442 L259.5 442 L262 442 L264.5 442 L267 442 L269.5 442 L272 442 L274.5 442 L277 442 L279.5 442 L282 442 L284.5 442 L287 442 L289.5 442 L292 442 L294.5 442 L297 442 L299.5 442 L302 442 L304.5 442 L307 442 L309.5 442 L312 442 L314.5 442 L317 442 L319.5 442 L322 442 L324.5 442 L327 442 L329.5 442 L332 442 L334.5 442 L337 442 L339.5 442 L342 442 L344.5 442 L347 442 L349.5 442 L352 442 L354.5 442 L357 442 L359.5 442 L362 442 L364.5 441.9 L367 441.9 L369.5 441.9 L372 441.9 L374.5 441.9 L377 441.9 L379.5 441.9 L382 441.9 L384.5 441.9 L387 441.9 L389.5 441.9 L392 441.8 L394.5 441.6 L397 441.6 L399.5 441.3 L402 441.2 L404.5 441.1 L407 441.1 L409.5 441.2 L412 441.5 L414.5 441.2 L417 441.1 L419.5 440.7 L422 440.7 L424.5 440.6 L427 440.9 L429.5 440.9 L432 440.8 L434.5 440.7 L437 440.7 L439.5 440.7 L442 440.4 L444.5 440.3 L447 439.6 L449.5 438.4 L452 437.2 L454.5 437.1 L457 435.3 L459.5 436.6 L462 437.6 L464.5 438.9 L467 438 L469.5 438.2 L472 438.9 L474.5 439.2 L477 439.5 L479.5 440 L482 439.2 L484.5 438.5 L487 438.3 L489.5 438.7 L492 439.1 L494.5 439.2 L497 439.6 L499.5 439.9 L502 439.8 L504.5 439.7 L507 439.4 L509.5 439.7 L512 440.3 L514.5 440.2 L517 440 L519.5 440.5 L522 440.1 L524.5 440.1 L527 440.1 L529.5 440.2 L532 440.2 L534.5 440.2 L537 440.9 L539.5 440.9 L542 441.2 L544.5 441.2 L547 440.9 L549.5 441 L552 441.1 L554.5 441.1 L557 441.1 L559.5 441.1 L562 441 L564.5 441 L567 440.9 L569.5 440.8 L572 440.6 L574.5 440.5 L577 440.5 L579.5 440.5 L582 440 L584.5 440 L587 439.7 L589.5 439.8 L592 439.4 L594.5 439 L597 439.3 L599.5 439.8 L602 439.6 L604.5 439.4 L607 439.8 L609.5 439.8 L612 439.7 L614.5 439.7 L617 440.2 L619.5 440.2 L622 440.2 L624.5 440.2 L627 439.9 L629.5 440 L632 440.2 L634.5 440.4 L637 440.4 L639.5 440.5 L642 440.5 L644.5 440.1 L647 440.1 L649.5 439.8 L652 439.5 L654.5 439.5 L657 439.9 L659.5 440.4 L662 440.7 L664.5 440.5 L667 440.5 L669.5 440.3 L672 440.3 L674.5 439.8 L677 439.8 L679.5 439.7 L682 439.7 L684.5 439.8 L687 439.8 L689.5 439.9 L692 439.8 L694.5 439.7 L697 439 L699.5 438.9 L702 438.8 L704.5 439 L707 439.2 L709.5 439.2 L712 439.2 L714.5 439 L717 438.8 L719.5 438.5 L722 438.2 L724.5 437.9 L727 437.2 L729.5 437.4 L732 436.5 L734.5 436 L737 434.2 L739.5 433.3 L742 434.4 L744.5 432.4 L747 429.4 L749.5 428.4 L752 429.2 L754.5 426.3 L757 427.5 L759.5 426.8 L762 422.5 L764.5 423.1 L767 424.1 L769.5 421.6 L772 425.8 L774.5 427.8 L777 427.5 L779.5 429.7 L782 430.1 L784.5 429.7 L787 431.4 L789.5 427.9 L792 425.7 L794.5 423.8 L797 423.6 L799.5 421.2 L802 423.3 L804.5 425.6 L807 423.4 L809.5 420.5 L812 419.6 L814.5 417.9 L817 416.8 L819.5 418.6 L822 419.7 L824.5 422.1 L827 421.8 L829.5 421.4 L832 423.4 L834.5 425.5 L837 427.3 L839.5 424.2 L842 424.9 L844.5 426 L847 426.7 L849.5 426.2 L852 423.1 L854.5 423.4 L857 425.4 L859.5 425.8 L862 426.9 L864.5 430.6 L867 430.8 L869.5 431 L872 431.4 L874.5 434.2 L877 433.9 L879.5 433.7 L882 433 L884.5 432.3 L887 431.7 L889.5 432.6 L892 433.5 L894.5 433 L897 433.7 L899.5 433.7 L902 433.8 L904.5 433.9 L907 433.5 L909.5 433.8 L912 434.9 L914.5 434.8 L917 434.5 L919.5 434.8 L922 435 L924.5 435 L927 434 L929.5 432.9 L932 432.6 L934.5 432.6 L937 432.1 L939.5 432.7 L942 433.8 L944.5 431.9 L947 431.7 L949.5 431.1 L952 431.3 L954.5 431.5 L957 431.7 L959.5 432.1 L962 431.9 L964.5 432.3 L967 432.4 L969.5 431.8 L972 431.5 L974.5 431.4 L977 431.7 L979.5 431.7 L982 432 L984.5 432.8 L987 432.5 L989.5 433.1 L992 432.6 L994.5 432.4 L997 433 L999.5 431.1 L1002 431.1 L1004.5 429.8 L1007 429.8 L1009.5 429.7 L1012 427.7 L1014.5 428.1 L1017 427.3 L1019.5 426.9 L1022 426.9 L1024.5 428.4 L1027 427.5 L1029.5 425 L1032 424.5 L1034.5 420.2 L1037 419.4 L1039.5 420.1 L1042 418.1 L1044.5 420 L1047 421.1 L1049.5 421.8 L1052 421.6 L1054.5 418.8 L1057 418.8 L1059.5 419.2 L1062 420.7 L1064.5 421.5 L1067 422.7 L1069.5 421 L1072 420.7 L1074.5 423.2 L1077 423.6 L1079.5 423.1 L1082 424.2 L1084.5 423.3 L1087 422.5 L1089.5 422.5 L1092 422.1 L1094.5 421.1 L1097 421.2 L1099.5 416.7 L1102 414 L1104.5 411.7 L1107 410.5 L1109.5 411.2 L1112 412 L1114.5 411.9 L1117 410.2 L1119.5 411.1 L1122 413 L1124.5 413.8 L1127 414.7 L1129.5 418 L1132 418 L1134.5 417.5 L1137 420.8 L1139.5 418.6 L1142 416.4 L1144.5 415.7 L1147 412.6 L1149.5 412 L1152 413.2 L1154.5 412.4 L1157 413.8 L1159.5 413.1 L1162 410.8 L1164.5 408.5 L1167 409.4 L1169.5 408.3 L1172 408.1 L1174.5 409.1 L1177 408.1 L1179.5 406.9 L1182 409.5 L1184.5 406 L1187 408.7 L1189.5 409.3 L1192 409.9 L1194.5 412.8 L1197 415.3 L1199.5 415.5 L1202 414.8 L1204.5 416.7 L1207 415.7 L1209.5 413.9 L1212 414.9" fill="none" stroke="#5166a0" stroke-width="1.15" stroke-linejoin="round"/>
  <line x1="16" x2="1215" y1="402.3" y2="402.3" stroke="#c6c9d8" stroke-width="0.8"/>
  <g font-family="Liberation Sans" font-size="12" fill="#85889a"><text x="84.9" y="438.5">2014</text><text x="272.5" y="438.5">2016</text><text x="460.5" y="438.5">2018</text><text x="648.0" y="438.5">2020</text><text x="835.5" y="438.5">2022</text><text x="1023.5" y="438.5">2024</text><text x="1211.0" y="438.5">2026</text></g>
  <g>
    <rect x="13.5" y="414.5" width="7" height="15" rx="1" fill="#fff" stroke="#c4c4c4" stroke-width="1"/>
    <line x1="16.5" y1="418" x2="16.5" y2="426" stroke="#cfcfcf"/><line x1="18.5" y1="418" x2="18.5" y2="426" stroke="#cfcfcf"/>
    <rect x="1211.5" y="414.5" width="7" height="15" rx="1" fill="#fff" stroke="#c4c4c4" stroke-width="1"/>
    <line x1="1214.5" y1="418" x2="1214.5" y2="426" stroke="#cfcfcf"/><line x1="1216.5" y1="418" x2="1216.5" y2="426" stroke="#cfcfcf"/>
  </g>
</svg>
</body></html>
